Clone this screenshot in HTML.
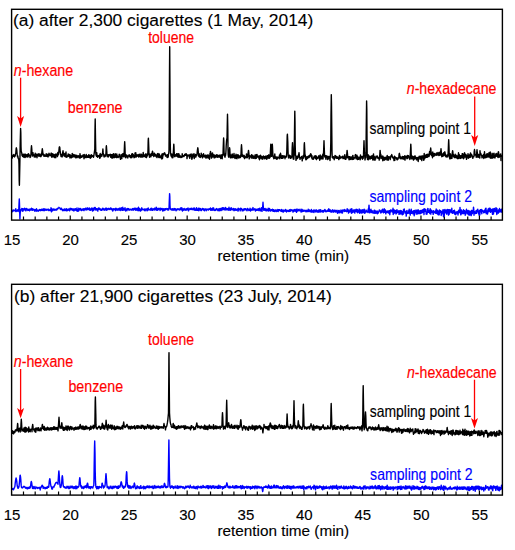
<!DOCTYPE html>
<html><head><meta charset="utf-8"><style>
html,body{margin:0;padding:0;background:#fff;width:515px;height:550px;overflow:hidden}
svg{display:block}
</style></head><body>
<svg width="515" height="550" viewBox="0 0 515 550">
<rect width="515" height="550" fill="#fff"/>
<g fill="none" stroke-linejoin="round">
<polyline points="12.0,157.9 12.2,158.1 12.5,156.4 12.8,155.4 13.0,155.0 13.2,156.4 13.5,155.1 13.8,154.6 14.0,156.5 14.2,156.4 14.5,156.9 14.8,155.2 15.0,156.2 15.2,155.9 15.5,154.0 15.8,153.4 16.0,150.6 16.2,148.3 16.4,147.8 16.8,150.1 17.0,152.9 17.2,155.0 17.5,156.8 17.8,155.8 18.0,156.9 18.2,158.4 18.6,159.2 18.8,158.9 19.0,164.0 19.2,180.5 19.4,185.3 19.8,166.1 20.0,155.1 20.2,143.9 20.6,128.5 20.8,132.3 21.0,146.5 21.2,151.2 21.5,152.1 21.8,153.2 22.0,155.4 22.2,155.0 22.5,156.3 22.8,156.5 23.0,155.6 23.2,154.1 23.5,157.1 23.8,155.4 24.0,156.8 24.2,154.3 24.5,155.4 24.8,157.4 25.0,157.6 25.2,154.3 25.5,154.3 25.8,155.8 26.0,156.7 26.2,156.0 26.5,156.2 26.8,154.6 27.0,156.5 27.2,157.1 27.5,155.3 27.8,154.1 28.0,154.9 28.2,156.7 28.5,153.7 28.8,155.6 29.0,154.5 29.2,155.6 29.5,155.4 29.8,155.7 30.0,157.5 30.2,156.2 30.5,157.2 30.8,155.3 31.0,153.5 31.2,149.1 31.5,145.8 31.8,149.1 32.0,153.8 32.2,154.0 32.5,156.1 32.8,154.9 33.0,152.6 33.2,155.3 33.5,154.4 33.8,154.9 34.0,155.3 34.2,157.0 34.5,155.6 34.8,155.5 35.0,156.0 35.2,153.3 35.5,157.0 35.8,154.2 36.0,156.0 36.2,154.1 36.5,154.3 36.8,155.0 37.0,157.7 37.2,156.2 37.5,154.7 37.8,155.0 38.0,154.0 38.2,155.3 38.5,154.7 38.8,156.2 39.0,153.7 39.2,154.9 39.5,154.3 39.8,154.5 40.0,156.2 40.2,155.4 40.5,156.0 40.8,156.7 41.0,156.6 41.2,153.6 41.5,155.5 41.8,152.7 42.0,151.0 42.3,148.8 42.5,149.9 42.8,152.6 43.0,154.7 43.2,155.1 43.5,155.2 43.8,154.3 44.0,156.4 44.2,156.2 44.5,154.9 44.8,155.5 45.0,155.9 45.2,156.3 45.5,155.6 45.8,155.9 46.0,154.8 46.2,153.8 46.5,154.5 46.8,156.3 47.0,156.2 47.2,155.2 47.5,154.3 47.8,155.4 48.0,157.0 48.2,156.6 48.5,154.2 48.8,155.0 49.0,153.3 49.2,153.7 49.5,155.2 49.8,155.0 50.0,155.9 50.2,155.8 50.5,154.9 50.8,154.9 51.0,153.4 51.2,153.1 51.5,154.7 51.8,157.2 52.0,155.2 52.2,153.7 52.5,155.4 52.8,156.8 53.0,153.9 53.2,156.1 53.5,154.4 53.8,156.7 54.0,156.1 54.2,155.5 54.5,157.6 54.8,154.7 55.0,154.4 55.2,157.4 55.5,154.2 55.8,157.8 56.0,155.2 56.2,154.0 56.5,155.2 56.8,155.4 57.0,155.5 57.2,155.0 57.5,156.5 57.8,152.5 58.0,154.5 58.2,154.4 58.5,154.7 58.8,151.9 59.0,149.7 59.2,147.6 59.5,146.8 59.8,147.6 60.0,149.7 60.2,152.0 60.5,153.4 60.8,155.0 61.0,156.5 61.2,156.4 61.5,155.0 61.8,156.7 62.0,154.2 62.2,156.9 62.5,154.0 62.8,151.9 63.0,150.8 63.2,152.0 63.5,155.0 63.8,154.9 64.0,155.0 64.2,156.1 64.5,154.4 64.8,153.4 65.0,156.5 65.2,155.0 65.5,156.8 65.8,154.3 66.0,152.0 66.2,155.8 66.5,155.7 66.8,157.4 67.0,156.1 67.2,155.9 67.5,156.2 67.8,155.1 68.0,155.6 68.2,153.9 68.5,156.2 68.8,154.6 69.0,155.0 69.2,156.4 69.5,156.7 69.8,154.4 70.0,158.0 70.2,154.9 70.5,156.6 70.8,156.8 71.0,155.9 71.2,155.8 71.5,157.8 71.8,156.7 72.0,156.2 72.2,153.5 72.5,154.8 72.8,157.1 73.0,155.9 73.2,154.5 73.5,154.9 73.8,155.3 74.0,156.5 74.2,156.2 74.5,156.9 74.8,154.8 75.0,156.9 75.2,155.1 75.5,155.4 75.8,157.8 76.0,155.9 76.2,155.6 76.5,155.5 76.8,155.3 77.0,157.7 77.2,157.4 77.5,156.7 77.8,156.0 78.0,157.1 78.2,155.7 78.5,156.4 78.8,156.3 79.0,156.0 79.2,157.8 79.5,158.0 79.8,157.4 80.0,153.6 80.2,158.1 80.5,156.7 80.8,155.4 81.0,155.9 81.2,157.3 81.5,157.3 81.8,156.9 82.0,156.1 82.2,156.0 82.5,156.9 82.8,155.8 83.0,154.9 83.2,155.2 83.5,155.8 83.8,156.4 84.0,158.7 84.2,154.4 84.5,156.6 84.8,155.9 85.0,156.4 85.2,157.6 85.5,157.5 85.8,155.8 86.0,155.4 86.2,154.4 86.5,156.0 86.8,157.5 87.0,155.7 87.2,156.9 87.5,156.9 87.8,156.6 88.0,157.4 88.2,156.0 88.5,155.1 88.8,154.7 89.0,157.2 89.2,155.7 89.5,155.8 89.8,157.1 90.0,155.2 90.2,158.3 90.5,157.0 90.8,155.5 91.0,155.4 91.2,157.5 91.5,154.8 91.8,155.4 92.0,156.2 92.2,156.4 92.5,156.2 92.8,156.6 93.0,155.7 93.2,156.0 93.5,157.4 93.8,156.2 94.0,154.5 94.2,153.3 94.5,151.3 94.8,149.0 95.0,129.3 95.2,119.0 95.5,138.3 95.8,153.0 96.0,155.1 96.2,155.4 96.5,156.4 96.8,152.7 97.0,156.5 97.2,155.1 97.5,157.2 97.8,156.9 98.0,156.9 98.2,155.6 98.5,156.6 98.8,155.6 99.0,156.3 99.2,155.9 99.5,155.0 99.8,158.4 100.0,156.9 100.2,153.5 100.5,157.1 100.8,154.3 101.0,155.7 101.2,155.3 101.5,155.4 101.8,156.3 102.0,155.6 102.2,154.1 102.5,153.6 102.8,150.0 102.9,149.0 103.2,152.9 103.5,154.2 103.8,155.5 104.0,156.8 104.2,154.9 104.5,155.1 104.8,156.7 105.0,156.0 105.2,156.3 105.5,155.2 105.8,154.6 106.0,152.5 106.2,147.2 106.4,145.8 106.8,151.5 107.0,155.5 107.2,156.5 107.5,156.6 107.8,154.9 108.0,154.7 108.2,157.0 108.5,156.0 108.8,156.1 109.0,154.6 109.2,155.7 109.5,155.2 109.8,155.0 110.0,155.2 110.2,154.2 110.5,156.1 110.8,157.4 111.0,155.2 111.2,156.1 111.5,154.7 111.8,156.8 112.0,158.2 112.2,154.5 112.5,155.7 112.8,157.7 113.0,156.4 113.2,156.1 113.5,153.6 113.8,155.8 114.0,157.1 114.2,157.7 114.5,156.8 114.8,155.3 115.0,155.2 115.2,153.8 115.5,154.7 115.8,157.3 116.0,155.9 116.2,154.4 116.5,157.6 116.8,154.0 117.0,157.5 117.2,155.6 117.5,156.4 117.8,156.8 118.0,156.3 118.2,157.5 118.5,156.0 118.8,155.6 119.0,155.2 119.2,154.3 119.5,155.2 119.8,157.2 120.0,157.0 120.2,157.7 120.5,159.3 120.8,156.9 121.0,156.6 121.2,154.4 121.5,155.7 121.8,158.6 122.0,156.6 122.2,155.8 122.5,156.4 122.8,153.7 123.0,155.0 123.2,154.4 123.5,153.4 123.8,156.9 124.0,156.4 124.2,152.3 124.5,145.1 124.7,141.8 125.0,148.2 125.2,154.4 125.5,157.5 125.8,157.8 126.0,156.6 126.2,155.8 126.5,155.0 126.8,155.3 127.0,156.7 127.2,156.7 127.5,156.0 127.8,158.0 128.0,156.8 128.2,156.0 128.5,155.8 128.8,156.1 129.0,154.9 129.2,154.8 129.5,156.4 129.8,155.3 130.0,155.7 130.2,157.5 130.5,155.8 130.8,157.6 131.0,156.0 131.2,157.8 131.5,156.6 131.8,153.9 132.0,157.5 132.2,155.8 132.5,153.7 132.8,156.1 133.0,156.2 133.2,154.5 133.5,155.3 133.8,156.7 134.0,157.7 134.2,157.4 134.5,157.5 134.8,157.3 135.0,153.0 135.2,155.1 135.5,156.2 135.8,152.8 136.0,156.9 136.2,157.1 136.5,155.1 136.8,155.5 137.0,154.9 137.2,156.0 137.5,156.0 137.8,156.0 138.0,154.8 138.2,156.5 138.5,155.6 138.8,157.1 139.0,156.4 139.2,154.2 139.5,154.3 139.8,156.1 140.0,155.4 140.2,156.6 140.5,157.0 140.8,156.0 141.0,154.0 141.2,154.6 141.5,156.7 141.8,154.7 142.0,157.3 142.2,155.9 142.5,156.6 142.8,154.9 143.0,155.9 143.2,152.5 143.5,155.8 143.8,156.7 144.0,154.9 144.2,155.0 144.5,155.9 144.8,156.1 145.0,155.0 145.2,156.8 145.5,154.0 145.8,157.3 146.0,154.3 146.2,155.0 146.5,157.6 146.8,154.8 147.0,154.0 147.2,156.1 147.5,154.8 147.8,154.1 148.0,149.8 148.2,140.6 148.4,138.1 148.8,148.0 149.0,155.2 149.2,155.1 149.5,157.2 149.8,154.3 150.0,156.6 150.2,154.5 150.5,155.5 150.8,156.8 151.0,155.4 151.2,153.7 151.5,155.3 151.8,155.5 152.0,154.8 152.2,152.4 152.5,151.2 152.8,152.4 153.0,153.5 153.2,155.5 153.5,155.0 153.8,156.5 154.0,155.9 154.2,155.8 154.5,153.1 154.8,155.9 155.0,155.6 155.2,154.9 155.5,155.4 155.8,154.5 156.0,156.2 156.2,156.8 156.5,156.7 156.8,155.4 157.0,157.6 157.2,155.9 157.5,153.7 157.7,153.8 158.0,153.5 158.2,155.3 158.5,156.7 158.8,157.5 159.0,155.5 159.2,153.9 159.5,155.8 159.8,157.6 160.0,156.2 160.2,157.5 160.5,157.0 160.8,157.9 161.0,156.7 161.2,155.2 161.5,156.5 161.8,159.0 162.0,155.4 162.2,153.8 162.5,158.5 162.8,156.4 163.0,155.1 163.2,154.9 163.5,153.8 163.8,154.7 164.0,153.6 164.2,153.0 164.5,152.8 164.8,153.0 165.0,153.9 165.2,154.2 165.5,156.1 165.8,154.6 166.0,155.1 166.2,155.3 166.5,155.3 166.8,155.9 167.0,157.2 167.2,157.4 167.5,154.7 167.8,157.4 168.0,155.9 168.2,156.9 168.5,154.3 168.8,152.8 169.0,150.6 169.2,127.4 169.5,72.2 169.7,46.8 170.0,95.8 170.2,141.2 170.5,153.4 170.8,154.2 171.0,155.9 171.2,156.3 171.5,155.4 171.8,153.9 172.0,157.6 172.2,155.6 172.5,154.8 172.8,157.9 173.0,157.1 173.2,155.0 173.5,149.4 173.8,144.1 174.0,146.9 174.2,152.9 174.5,155.9 174.8,156.7 175.0,156.6 175.2,154.8 175.5,155.3 175.8,155.6 176.0,155.8 176.2,155.0 176.5,153.8 176.8,154.5 177.0,156.4 177.2,156.0 177.5,156.7 177.8,153.7 178.0,155.5 178.2,157.1 178.5,153.7 178.8,154.7 179.0,154.0 179.2,157.4 179.5,156.0 179.8,155.3 180.0,156.2 180.2,155.9 180.5,157.1 180.8,157.4 181.0,157.1 181.2,156.4 181.5,156.9 181.8,157.0 182.0,157.4 182.2,153.8 182.5,156.4 182.8,156.1 183.0,156.2 183.2,155.7 183.5,155.9 183.8,156.6 184.0,156.2 184.2,156.2 184.5,154.7 184.8,154.5 185.0,155.1 185.2,153.9 185.5,155.4 185.8,155.0 186.0,153.9 186.2,153.7 186.5,155.4 186.8,155.3 187.0,158.6 187.2,157.0 187.5,155.1 187.8,155.4 188.0,154.8 188.2,155.1 188.5,155.6 188.8,155.9 189.0,155.3 189.2,157.0 189.5,156.8 189.8,158.3 190.0,154.4 190.2,156.8 190.5,155.6 190.8,154.1 191.0,155.6 191.2,154.0 191.5,156.0 191.8,159.3 192.0,157.6 192.2,158.2 192.5,157.4 192.8,154.2 193.0,156.5 193.2,156.2 193.5,156.5 193.8,154.8 194.0,153.6 194.2,158.5 194.5,157.4 194.8,156.4 195.0,155.4 195.2,156.2 195.5,154.5 195.8,157.1 196.0,156.2 196.2,155.8 196.5,155.4 196.8,155.5 197.0,154.5 197.2,152.2 197.5,149.5 197.8,147.8 198.0,148.6 198.2,151.1 198.5,154.0 198.8,156.3 199.0,156.6 199.2,153.8 199.5,155.6 199.8,157.2 200.0,156.0 200.2,157.5 200.5,155.5 200.8,157.0 201.0,156.6 201.2,153.1 201.5,155.5 201.8,155.7 202.0,155.3 202.2,155.0 202.5,157.9 202.8,155.9 203.0,157.0 203.2,154.5 203.5,153.6 203.8,155.5 204.0,156.6 204.2,155.2 204.5,156.7 204.8,157.0 205.0,155.5 205.2,156.0 205.5,155.2 205.8,157.4 206.0,158.2 206.2,156.7 206.5,155.5 206.8,155.3 207.0,155.8 207.2,157.2 207.5,155.2 207.8,157.9 208.0,154.7 208.2,156.1 208.5,157.7 208.8,158.3 209.0,155.7 209.2,157.1 209.5,159.2 209.8,157.4 210.0,153.4 210.2,153.0 210.5,151.4 210.8,153.0 211.0,156.0 211.2,153.7 211.5,158.1 211.8,155.2 212.0,157.2 212.2,157.3 212.5,152.9 212.8,154.5 213.0,156.6 213.2,154.4 213.5,156.2 213.8,155.1 214.0,157.8 214.2,155.6 214.5,155.1 214.8,157.0 215.0,157.7 215.2,156.1 215.5,156.6 215.8,156.9 216.0,155.7 216.2,154.9 216.5,156.9 216.8,155.9 217.0,154.6 217.2,157.3 217.5,156.8 217.8,156.5 218.0,155.4 218.2,156.0 218.5,157.0 218.8,156.9 219.0,155.3 219.2,155.2 219.5,156.7 219.8,156.5 220.0,157.3 220.2,155.0 220.5,157.4 220.8,158.5 221.0,157.5 221.2,156.5 221.5,157.4 221.8,154.8 222.0,155.8 222.2,158.8 222.5,154.4 222.8,154.9 223.0,155.1 223.2,148.2 223.6,137.9 223.8,140.5 224.0,150.0 224.2,154.8 224.5,156.0 224.8,154.2 225.0,157.2 225.2,156.1 225.5,155.7 225.8,153.7 226.0,150.3 226.2,145.7 226.5,141.2 226.8,138.8 227.0,139.9 227.2,128.5 227.5,114.2 227.8,128.5 228.0,148.4 228.2,154.7 228.5,156.7 228.8,157.3 229.0,155.6 229.2,152.6 229.6,147.8 229.8,149.0 230.0,153.5 230.2,154.9 230.5,157.9 230.8,156.2 231.0,155.2 231.2,155.9 231.5,155.1 231.8,156.3 232.0,157.8 232.2,153.9 232.5,155.1 232.8,157.5 233.0,156.2 233.2,157.5 233.5,155.0 233.8,156.5 234.0,153.5 234.2,155.6 234.5,157.5 234.8,158.0 235.0,158.5 235.2,156.5 235.5,155.5 235.8,156.1 236.0,154.3 236.2,158.2 236.5,158.0 236.8,155.5 237.0,158.8 237.2,155.0 237.5,157.3 237.8,155.7 238.0,154.6 238.2,157.1 238.5,155.3 238.8,158.1 239.0,155.6 239.2,156.8 239.5,156.1 239.8,156.8 240.0,155.9 240.2,157.6 240.5,157.4 240.8,156.5 241.0,154.4 241.2,148.8 241.5,144.8 241.8,148.8 242.0,154.6 242.2,156.4 242.5,154.8 242.8,156.5 243.0,156.3 243.2,155.5 243.5,157.0 243.8,155.4 244.0,156.4 244.2,155.4 244.5,158.6 244.8,156.4 245.0,157.3 245.2,157.1 245.5,157.6 245.8,156.6 246.0,157.7 246.2,156.9 246.5,153.9 246.8,157.2 247.0,155.2 247.2,157.9 247.5,157.0 247.8,156.2 248.0,153.8 248.2,152.6 248.5,150.4 248.8,152.6 249.0,154.6 249.2,158.9 249.5,157.4 249.8,156.7 250.0,155.7 250.2,156.4 250.5,156.6 250.8,156.3 251.0,156.8 251.2,157.8 251.5,154.8 251.8,157.1 252.0,158.2 252.2,155.2 252.5,156.6 252.8,156.4 253.0,155.5 253.2,158.0 253.5,156.5 253.8,158.3 254.0,157.4 254.2,156.6 254.5,157.3 254.8,156.5 255.0,155.0 255.2,158.6 255.5,157.4 255.8,158.3 256.0,154.8 256.2,158.2 256.5,157.9 256.8,156.9 257.0,154.4 257.2,157.1 257.5,156.2 257.8,156.7 258.0,157.0 258.2,155.9 258.5,156.8 258.8,157.0 259.0,158.7 259.2,156.9 259.5,159.8 259.8,155.6 260.0,156.8 260.2,158.5 260.5,155.1 260.8,157.7 261.0,157.5 261.2,156.3 261.5,156.7 261.8,158.9 262.0,156.5 262.2,157.4 262.5,157.9 262.8,159.2 263.0,158.1 263.2,157.3 263.5,156.0 263.8,156.8 264.0,157.8 264.2,158.0 264.5,156.7 264.8,158.9 265.0,157.0 265.2,157.9 265.5,156.2 265.8,158.1 266.0,156.2 266.2,158.5 266.5,158.1 266.8,159.3 267.0,156.6 267.2,155.7 267.5,158.1 267.8,157.5 268.0,156.5 268.2,155.5 268.5,158.1 268.8,154.8 269.0,156.6 269.2,158.4 269.5,156.8 269.8,157.7 270.0,157.5 270.2,155.7 270.5,149.9 270.8,144.1 271.0,147.1 271.2,153.7 271.5,156.4 271.8,155.1 272.0,150.0 272.3,144.1 272.5,147.1 272.8,153.7 273.0,156.8 273.2,157.1 273.5,156.6 273.8,158.7 274.0,157.9 274.2,157.6 274.5,155.7 274.8,154.0 275.0,156.3 275.2,158.6 275.5,156.9 275.8,157.2 276.0,156.9 276.2,157.8 276.5,157.2 276.8,159.3 277.0,157.1 277.2,156.9 277.5,158.9 277.8,158.1 278.0,158.1 278.2,157.9 278.5,157.2 278.8,157.6 279.0,157.9 279.2,157.4 279.5,155.0 279.8,158.7 280.0,156.1 280.2,154.6 280.5,153.3 280.8,154.5 281.0,155.7 281.2,157.1 281.5,158.3 281.8,156.9 282.0,157.8 282.2,155.7 282.5,158.2 282.8,155.9 283.0,158.1 283.2,156.4 283.5,156.6 283.8,155.8 284.0,155.8 284.2,157.0 284.5,156.1 284.8,157.0 285.0,158.7 285.2,156.3 285.5,156.9 285.8,157.2 286.0,156.6 286.2,157.0 286.5,156.0 286.8,151.7 287.0,143.8 287.2,135.8 287.4,134.1 287.8,142.0 288.0,150.4 288.2,155.4 288.5,157.8 288.8,158.0 289.0,156.5 289.2,156.1 289.5,155.2 289.8,156.7 290.0,157.1 290.2,155.6 290.5,158.4 290.8,157.6 291.0,157.1 291.2,156.8 291.5,157.9 291.8,156.7 292.0,154.6 292.2,147.7 292.5,142.8 292.8,147.7 293.0,154.5 293.2,159.0 293.5,158.6 293.8,159.3 294.0,156.0 294.2,151.2 294.5,131.9 294.8,111.1 295.0,121.9 295.2,145.3 295.5,155.8 295.8,155.8 296.0,160.4 296.2,157.6 296.5,159.0 296.8,156.6 297.0,156.3 297.2,158.5 297.5,158.5 297.8,156.6 298.0,157.8 298.2,155.8 298.5,154.9 298.8,154.3 299.0,152.6 299.2,154.3 299.5,157.4 299.8,157.8 300.0,159.3 300.2,157.9 300.5,157.9 300.8,157.5 301.0,158.0 301.2,157.9 301.5,156.4 301.8,157.4 302.0,157.1 302.2,160.9 302.5,159.0 302.8,156.6 303.0,158.2 303.2,155.4 303.5,157.5 303.8,158.1 304.0,152.4 304.2,144.7 304.4,142.7 304.8,150.9 305.0,156.4 305.2,154.9 305.5,156.5 305.8,159.8 306.0,156.5 306.2,158.9 306.5,159.6 306.8,157.5 307.0,158.7 307.2,157.9 307.5,156.8 307.8,158.2 308.0,158.0 308.2,156.3 308.5,157.0 308.8,155.9 309.0,157.1 309.2,157.4 309.5,156.1 309.8,155.1 310.0,156.2 310.2,155.0 310.5,154.0 310.7,153.8 311.0,154.3 311.2,154.5 311.5,157.7 311.8,157.2 312.0,155.7 312.2,158.9 312.5,158.4 312.8,159.2 313.0,158.4 313.2,158.2 313.5,159.2 313.8,157.2 314.0,157.8 314.2,156.2 314.5,156.2 314.8,157.8 315.0,157.8 315.2,155.6 315.5,158.0 315.8,158.7 316.0,156.0 316.2,157.1 316.5,159.6 316.8,156.5 317.0,158.2 317.2,158.5 317.5,157.7 317.8,157.7 318.0,158.2 318.2,157.9 318.5,157.7 318.8,155.8 319.0,157.8 319.2,156.6 319.5,159.3 319.8,160.2 320.0,158.9 320.2,155.0 320.5,158.7 320.8,157.7 321.0,156.2 321.2,156.1 321.5,158.8 321.8,156.8 322.0,157.4 322.2,157.6 322.5,158.7 322.8,154.3 323.0,159.0 323.2,156.3 323.5,154.3 323.8,146.4 324.0,140.7 324.2,146.4 324.5,154.3 324.8,157.0 325.0,156.3 325.2,156.8 325.5,155.6 325.8,158.5 326.0,159.3 326.2,156.8 326.5,157.0 326.8,155.8 327.0,156.7 327.2,156.3 327.5,157.6 327.8,159.6 328.0,158.8 328.2,158.7 328.5,156.4 328.8,158.5 329.0,156.7 329.2,156.5 329.5,158.4 329.8,157.4 330.0,160.5 330.2,157.3 330.5,154.2 330.8,141.9 331.0,115.9 331.3,94.6 331.5,105.2 331.8,132.7 332.0,150.9 332.2,157.5 332.5,156.2 332.8,158.0 333.0,156.9 333.2,157.9 333.5,156.6 333.8,158.3 334.0,158.2 334.2,159.7 334.5,157.1 334.8,158.1 335.0,155.5 335.2,156.6 335.5,157.9 335.8,155.9 336.0,157.4 336.2,156.5 336.5,158.1 336.8,158.3 337.0,157.0 337.2,158.3 337.5,156.9 337.8,157.7 338.0,158.2 338.2,158.2 338.5,158.3 338.8,159.6 339.0,156.8 339.2,157.4 339.5,155.4 339.8,158.6 340.0,156.2 340.2,156.9 340.5,157.0 340.8,158.1 341.0,157.2 341.2,157.2 341.5,157.7 341.8,157.2 342.0,157.5 342.2,156.4 342.5,156.9 342.8,156.1 343.0,158.6 343.2,158.6 343.5,158.4 343.8,158.0 344.0,156.9 344.2,158.2 344.5,155.7 344.8,154.6 345.0,156.2 345.2,159.4 345.5,157.9 345.8,159.4 346.0,156.7 346.2,158.4 346.5,157.2 346.8,153.5 347.1,150.4 347.2,151.1 347.5,154.1 347.8,157.9 348.0,156.1 348.2,156.7 348.5,157.6 348.8,156.7 349.0,159.7 349.2,158.4 349.5,156.7 349.8,159.6 350.0,159.2 350.2,157.1 350.5,159.4 350.8,159.0 351.0,157.0 351.2,156.9 351.5,158.0 351.8,159.0 352.0,159.5 352.2,159.4 352.5,157.0 352.8,155.5 353.0,155.6 353.2,159.4 353.5,158.9 353.8,159.0 354.0,157.6 354.2,157.7 354.5,158.1 354.8,157.9 355.0,156.7 355.2,155.1 355.5,154.6 355.8,155.4 356.0,156.5 356.2,158.9 356.5,156.3 356.8,155.2 357.0,155.2 357.2,157.6 357.5,159.6 357.8,157.2 358.0,156.8 358.2,158.0 358.5,159.4 358.8,158.9 359.0,158.6 359.2,158.7 359.5,157.3 359.8,157.7 360.0,158.1 360.2,159.8 360.5,155.0 360.8,157.0 361.0,158.0 361.2,157.3 361.5,157.5 361.8,157.3 362.0,156.5 362.2,158.2 362.5,159.2 362.8,157.2 363.0,158.1 363.2,158.3 363.5,154.4 363.8,146.4 364.0,140.7 364.2,146.4 364.5,154.4 364.8,157.0 365.0,160.0 365.2,158.6 365.5,155.4 365.8,157.6 366.0,152.4 366.2,132.4 366.6,101.0 366.8,108.8 367.0,138.0 367.2,154.2 367.5,159.4 367.8,157.5 368.0,154.6 368.2,159.9 368.5,158.3 368.8,155.4 369.0,156.9 369.2,156.7 369.5,158.8 369.8,156.9 370.0,159.0 370.2,157.0 370.5,158.8 370.8,156.9 371.0,156.2 371.2,158.4 371.5,157.4 371.8,158.3 372.0,155.7 372.2,156.4 372.5,157.2 372.8,160.0 373.0,158.1 373.2,155.7 373.5,153.9 373.8,159.9 374.0,158.1 374.2,156.2 374.5,158.9 374.8,158.7 375.0,160.2 375.2,157.9 375.5,157.1 375.8,158.7 376.0,156.1 376.2,157.1 376.5,156.5 376.8,157.0 377.0,156.1 377.2,156.0 377.5,156.4 377.8,158.2 378.0,157.7 378.2,157.6 378.5,158.3 378.8,158.6 379.0,158.3 379.2,160.1 379.5,157.3 379.8,154.5 380.1,150.4 380.2,151.4 380.5,155.4 380.8,154.2 381.0,158.6 381.2,156.4 381.5,158.1 381.8,157.8 382.0,156.2 382.2,156.1 382.5,157.4 382.8,160.8 383.0,156.2 383.2,157.2 383.5,157.4 383.8,157.4 384.0,159.1 384.2,160.2 384.5,157.7 384.8,158.2 385.0,157.3 385.2,159.6 385.5,157.7 385.8,158.5 386.0,157.5 386.2,159.1 386.5,157.7 386.8,156.7 387.0,160.0 387.2,155.4 387.5,157.9 387.8,157.3 388.0,156.7 388.2,160.2 388.5,158.1 388.8,157.3 389.0,156.7 389.2,158.1 389.5,157.7 389.8,157.5 390.0,157.0 390.2,159.6 390.5,157.9 390.8,157.2 391.0,155.8 391.2,155.5 391.5,155.0 391.7,154.6 392.0,155.4 392.2,156.2 392.5,157.5 392.8,158.0 393.0,157.2 393.2,157.4 393.5,157.7 393.8,158.6 394.0,160.6 394.2,158.8 394.5,156.2 394.8,160.4 395.0,157.6 395.2,156.9 395.5,157.9 395.8,157.7 396.0,158.1 396.2,157.7 396.5,157.8 396.8,159.3 397.0,159.8 397.2,157.9 397.5,159.7 397.8,158.9 398.0,159.2 398.2,158.1 398.5,157.9 398.8,157.9 399.0,155.3 399.2,153.7 399.4,153.3 399.8,155.4 400.0,157.1 400.2,158.3 400.5,157.4 400.8,156.9 401.0,159.0 401.2,157.3 401.5,157.5 401.8,157.9 402.0,158.4 402.2,157.9 402.5,156.5 402.8,156.5 403.0,159.1 403.2,157.4 403.5,157.5 403.8,156.7 404.0,159.0 404.2,158.4 404.5,157.1 404.8,155.7 405.0,160.1 405.2,157.1 405.5,156.4 405.8,157.2 406.0,156.4 406.2,157.8 406.5,157.1 406.8,156.3 407.0,158.7 407.2,156.7 407.5,155.5 407.8,158.3 408.0,157.1 408.2,156.4 408.5,155.7 408.8,156.9 409.0,157.1 409.2,157.2 409.5,157.2 409.8,159.5 410.0,159.0 410.2,156.1 410.5,150.3 410.8,144.1 411.0,147.3 411.2,154.3 411.5,158.8 411.8,156.9 412.0,156.9 412.2,156.9 412.5,156.1 412.8,158.6 413.0,156.4 413.2,159.7 413.5,160.1 413.8,158.0 414.0,157.8 414.2,156.7 414.5,159.1 414.8,158.0 415.0,155.8 415.2,156.6 415.5,158.5 415.8,157.2 416.0,158.5 416.2,158.2 416.5,159.9 416.8,157.7 417.0,159.4 417.2,159.4 417.5,159.7 417.8,157.4 418.0,158.3 418.2,161.5 418.5,157.6 418.8,157.0 419.0,158.1 419.2,156.2 419.5,156.7 419.8,157.3 420.0,157.5 420.2,159.3 420.5,156.2 420.8,157.4 421.0,158.0 421.2,157.1 421.5,158.5 421.8,160.6 422.0,155.7 422.2,155.9 422.5,156.3 422.8,156.2 423.0,156.1 423.2,157.5 423.5,159.3 423.8,160.3 424.0,156.5 424.2,153.5 424.5,158.8 424.8,156.4 425.0,155.7 425.2,157.8 425.5,155.9 425.8,155.7 426.0,154.6 426.2,157.3 426.5,157.1 426.8,154.4 427.0,154.8 427.2,157.4 427.5,154.4 427.8,154.7 428.0,154.1 428.2,154.9 428.5,156.5 428.8,155.2 429.0,156.5 429.2,155.8 429.5,151.7 429.8,154.7 430.0,154.4 430.2,151.7 430.5,149.5 430.7,148.0 431.0,150.8 431.2,154.0 431.5,155.5 431.8,155.2 432.0,153.2 432.2,153.9 432.5,157.8 432.8,152.0 433.0,154.1 433.2,154.1 433.5,156.3 433.8,155.0 434.0,154.3 434.2,153.5 434.5,155.9 434.8,154.1 435.0,153.8 435.2,154.3 435.5,155.1 435.8,154.1 436.0,154.4 436.2,155.2 436.5,152.9 436.8,153.6 437.0,154.1 437.2,155.1 437.5,154.9 437.8,153.2 438.0,152.4 438.2,153.5 438.5,153.3 438.8,155.5 439.0,155.2 439.2,154.3 439.5,152.6 439.8,152.3 440.0,154.5 440.2,155.2 440.5,153.7 440.8,150.7 441.0,148.8 441.2,150.7 441.5,154.6 441.8,156.7 442.0,154.9 442.2,155.1 442.5,154.4 442.8,156.2 443.0,153.4 443.2,154.0 443.5,155.5 443.8,152.7 444.0,155.7 444.2,155.2 444.5,153.3 444.8,151.8 445.0,153.0 445.2,153.7 445.5,155.3 445.8,156.5 446.0,155.3 446.2,157.0 446.5,155.4 446.8,155.9 447.0,155.5 447.2,156.6 447.5,154.6 447.8,157.0 448.0,156.3 448.2,151.5 448.5,143.5 448.7,139.8 449.0,147.0 449.2,154.0 449.5,155.8 449.8,158.9 450.0,158.5 450.2,153.6 450.5,155.4 450.8,155.5 451.0,158.5 451.2,157.2 451.5,157.4 451.8,154.7 452.0,158.2 452.2,153.3 452.6,150.8 452.8,151.5 453.0,153.6 453.2,156.0 453.5,154.5 453.8,157.0 454.0,156.8 454.2,156.0 454.5,157.0 454.8,157.7 455.0,157.7 455.2,154.2 455.5,157.0 455.8,157.3 456.0,155.4 456.2,155.3 456.5,157.8 456.8,157.0 457.0,156.1 457.2,158.2 457.5,157.4 457.8,158.7 458.0,155.3 458.2,157.5 458.5,152.8 458.8,154.9 459.0,158.5 459.2,154.4 459.5,155.7 459.8,155.4 460.0,156.7 460.2,157.7 460.5,158.4 460.8,155.7 461.0,156.4 461.2,157.3 461.5,157.7 461.8,155.4 462.0,158.0 462.2,153.6 462.5,156.3 462.8,153.7 463.0,155.1 463.2,154.6 463.5,158.7 463.8,158.5 464.0,157.1 464.2,156.1 464.5,152.8 464.8,153.2 465.0,156.2 465.2,157.0 465.5,156.7 465.8,154.7 466.0,154.6 466.2,156.7 466.5,159.4 466.8,157.0 467.0,155.8 467.2,155.7 467.5,156.5 467.8,156.3 468.0,153.6 468.2,158.3 468.5,156.5 468.8,156.7 469.0,155.1 469.2,157.6 469.5,157.4 469.8,154.7 470.0,157.4 470.2,154.7 470.5,152.9 470.8,157.1 471.0,154.2 471.2,154.9 471.5,154.3 471.8,155.7 472.0,155.2 472.2,156.0 472.5,156.5 472.8,158.4 473.0,156.5 473.2,156.6 473.5,156.5 473.8,156.8 474.0,155.4 474.2,151.6 474.5,149.5 474.8,151.6 475.0,154.8 475.2,155.1 475.5,155.1 475.8,154.9 476.0,154.6 476.2,157.3 476.5,155.4 476.8,151.8 477.0,149.8 477.2,151.8 477.5,154.1 477.8,157.2 478.0,156.2 478.2,155.8 478.5,154.4 478.8,157.2 479.0,156.1 479.2,156.2 479.5,154.6 479.8,158.1 480.0,150.8 480.2,153.5 480.5,153.1 480.8,153.6 481.0,154.1 481.2,154.9 481.5,155.2 481.8,156.0 482.0,157.8 482.2,156.6 482.5,155.9 482.8,155.4 483.0,156.3 483.2,157.0 483.5,154.5 483.8,158.5 484.0,155.7 484.2,157.0 484.5,151.8 484.8,156.0 485.0,155.0 485.2,157.8 485.5,157.3 485.8,156.2 486.0,156.7 486.2,155.2 486.5,154.2 486.8,157.5 487.0,153.7 487.2,154.8 487.5,153.8 487.8,154.1 488.0,155.0 488.2,157.0 488.5,154.1 488.8,156.8 489.0,152.7 489.2,154.3 489.5,154.2 489.8,156.7 490.0,157.7 490.2,151.9 490.5,155.7 490.8,158.2 491.0,155.6 491.2,158.2 491.5,157.5 491.8,156.1 492.0,153.3 492.2,154.5 492.5,158.1 492.8,154.2 493.0,153.9 493.2,154.9 493.5,157.6 493.8,155.7 494.0,153.1 494.2,154.6 494.5,156.7 494.8,157.4 495.0,158.0 495.2,156.4 495.5,156.3 495.8,154.0 496.0,154.7 496.2,153.4 496.5,155.3 496.8,156.2 497.0,155.6 497.2,154.0 497.5,156.5 497.8,157.0 498.0,157.5 498.2,152.1 498.5,151.7 498.8,153.8 499.0,156.4 499.2,157.2 499.5,156.7 499.8,155.6 500.0,155.9 500.2,155.1 500.5,154.4 500.8,153.9 501.0,160.6 501.2,155.1 501.5,156.4 501.8,156.4 502.0,156.9" stroke="#000" stroke-width="1.4"/>
<polyline points="12.0,212.4 12.2,210.4 12.5,211.1 12.8,210.9 13.0,211.4 13.2,209.9 13.5,210.5 13.8,210.3 14.0,210.1 14.2,210.2 14.5,210.5 14.8,210.6 15.0,210.2 15.2,211.1 15.5,210.4 15.8,208.7 16.0,211.6 16.2,210.5 16.5,210.3 16.8,211.0 17.0,211.0 17.2,210.8 17.5,210.1 17.8,210.8 18.0,209.6 18.2,211.5 18.5,209.6 18.8,209.4 19.0,204.8 19.3,198.9 19.5,203.7 19.8,215.4 19.9,219.0 20.2,212.8 20.5,210.2 20.8,209.7 21.0,210.9 21.2,209.2 21.5,209.8 21.8,208.4 22.0,209.9 22.2,208.6 22.5,208.7 22.8,211.3 23.0,210.2 23.2,209.7 23.5,209.8 23.8,208.7 24.0,209.0 24.2,210.0 24.5,208.3 24.8,209.9 25.0,208.5 25.2,209.8 25.5,209.0 25.8,210.9 26.0,210.4 26.2,209.4 26.5,208.4 26.8,209.2 27.0,209.7 27.2,209.0 27.5,209.9 27.8,210.4 28.0,209.7 28.2,209.4 28.5,210.2 28.8,209.5 29.0,210.3 29.2,209.5 29.5,210.8 29.8,209.5 30.0,209.0 30.2,209.8 30.5,209.3 30.8,209.1 31.0,209.6 31.2,210.2 31.5,208.2 31.8,209.7 32.0,209.6 32.2,209.6 32.5,210.3 32.8,208.8 33.0,210.2 33.2,209.6 33.5,209.8 33.8,209.6 34.0,209.5 34.2,209.4 34.5,210.0 34.8,211.2 35.0,210.4 35.2,210.3 35.5,210.1 35.8,209.4 36.0,210.1 36.2,211.2 36.5,208.8 36.8,210.3 37.0,210.4 37.2,209.9 37.5,210.3 37.8,210.7 38.0,211.3 38.2,210.6 38.5,210.9 38.8,210.0 39.0,210.3 39.2,209.9 39.5,210.0 39.8,209.4 40.0,210.2 40.2,210.8 40.5,209.6 40.8,209.9 41.0,210.2 41.2,209.8 41.5,210.4 41.8,209.9 42.0,209.0 42.2,209.1 42.5,210.3 42.8,210.2 43.0,210.5 43.2,209.9 43.5,209.9 43.8,208.7 44.0,210.7 44.2,209.1 44.5,210.5 44.8,209.0 45.0,209.3 45.2,209.9 45.5,209.5 45.8,209.3 46.0,210.4 46.2,210.2 46.5,210.1 46.8,209.5 47.0,209.2 47.2,209.5 47.5,209.4 47.8,209.8 48.0,210.3 48.2,209.7 48.5,209.2 48.8,209.4 49.0,210.7 49.2,209.9 49.5,209.9 49.8,210.0 50.0,210.2 50.2,209.9 50.5,210.6 50.8,210.4 51.0,207.8 51.2,209.7 51.5,211.8 51.8,208.9 52.0,209.9 52.2,210.5 52.5,209.8 52.8,210.7 53.0,208.9 53.2,208.9 53.5,209.7 53.8,209.3 54.0,209.1 54.2,210.2 54.5,210.0 54.8,209.8 55.0,209.5 55.2,210.0 55.5,209.7 55.8,209.3 56.0,210.1 56.2,209.9 56.5,209.6 56.8,209.9 57.0,208.7 57.2,209.0 57.5,208.5 57.8,209.0 58.0,208.3 58.2,208.4 58.5,208.0 58.8,207.5 58.9,207.3 59.2,207.7 59.5,207.8 59.8,208.0 60.0,208.0 60.2,209.0 60.5,209.1 60.8,209.5 61.0,209.6 61.2,209.0 61.5,208.2 61.8,209.5 62.0,209.3 62.2,209.4 62.5,210.4 62.8,209.7 63.0,210.8 63.2,209.9 63.5,210.2 63.8,210.1 64.0,210.3 64.2,208.9 64.5,210.5 64.8,209.8 65.0,209.0 65.2,210.1 65.5,209.9 65.8,210.6 66.0,210.2 66.2,209.9 66.5,208.6 66.8,210.8 67.0,210.7 67.2,210.2 67.5,210.0 67.8,210.5 68.0,209.1 68.2,210.1 68.5,209.7 68.8,209.0 69.0,209.9 69.2,209.9 69.5,210.8 69.8,210.3 70.0,208.5 70.2,208.3 70.5,209.6 70.8,209.5 71.0,209.0 71.2,208.6 71.5,209.5 71.8,208.8 72.0,209.1 72.2,210.2 72.5,209.8 72.8,209.1 73.0,208.8 73.2,209.4 73.5,210.8 73.8,209.2 74.0,210.8 74.2,209.0 74.5,209.4 74.8,210.0 75.0,209.0 75.2,209.6 75.5,208.6 75.8,210.0 76.0,210.3 76.2,209.1 76.5,209.7 76.8,209.2 77.0,208.0 77.2,211.4 77.5,209.9 77.8,210.1 78.0,209.8 78.2,209.6 78.5,211.1 78.8,208.2 79.0,209.3 79.2,209.2 79.5,209.3 79.8,210.0 80.0,209.0 80.2,208.5 80.5,208.7 80.8,209.8 81.0,210.1 81.2,210.0 81.5,210.6 81.8,209.1 82.0,210.1 82.2,209.9 82.5,209.3 82.8,208.9 83.0,210.0 83.2,208.9 83.5,209.2 83.8,208.7 84.0,210.6 84.2,209.4 84.5,209.0 84.8,209.2 85.0,209.2 85.2,209.4 85.5,208.2 85.8,208.6 86.0,209.7 86.2,210.1 86.5,208.6 86.8,209.4 87.0,208.9 87.2,207.8 87.5,209.1 87.8,208.6 88.0,209.9 88.2,209.2 88.5,209.3 88.8,208.3 89.0,209.4 89.2,207.9 89.5,209.5 89.8,210.3 90.0,208.4 90.2,209.9 90.5,210.3 90.8,209.2 91.0,210.1 91.2,209.4 91.5,209.0 91.8,207.9 92.0,208.5 92.2,208.3 92.5,211.0 92.8,209.5 93.0,209.2 93.2,208.3 93.5,210.5 93.8,208.4 94.0,210.0 94.2,209.3 94.5,208.1 94.8,207.4 94.9,207.5 95.2,207.5 95.5,208.9 95.8,210.1 96.0,209.8 96.2,210.0 96.5,208.8 96.8,209.5 97.0,208.6 97.2,209.0 97.5,209.8 97.8,211.1 98.0,209.3 98.2,209.3 98.5,208.0 98.8,209.4 99.0,208.7 99.2,208.3 99.5,208.2 99.8,209.4 100.0,209.0 100.2,209.8 100.5,209.1 100.8,209.3 101.0,210.3 101.2,209.9 101.5,209.8 101.8,210.3 102.0,209.5 102.2,208.6 102.5,208.7 102.8,208.2 103.0,209.5 103.2,209.0 103.5,209.7 103.8,209.9 104.0,208.7 104.2,209.4 104.5,210.2 104.8,209.4 105.0,210.0 105.2,209.2 105.5,208.6 105.8,209.1 106.0,208.0 106.2,209.8 106.5,208.9 106.8,210.3 107.0,208.4 107.2,209.4 107.5,209.5 107.8,209.2 108.0,209.6 108.2,208.8 108.5,208.5 108.8,208.3 109.0,208.9 109.2,208.7 109.5,209.5 109.8,209.0 110.0,208.8 110.2,208.8 110.5,207.9 110.8,209.0 111.0,209.6 111.2,208.3 111.5,209.1 111.8,209.8 112.0,208.8 112.2,209.4 112.5,209.0 112.8,211.1 113.0,210.3 113.2,210.1 113.5,208.8 113.8,209.8 114.0,209.2 114.2,209.6 114.5,208.9 114.8,209.4 115.0,208.7 115.2,209.5 115.5,210.6 115.8,208.3 116.0,208.3 116.2,209.7 116.5,209.9 116.8,209.0 117.0,209.7 117.2,209.6 117.5,209.7 117.8,210.3 118.0,208.8 118.2,209.8 118.5,209.4 118.8,208.8 119.0,209.7 119.2,208.4 119.5,208.2 119.8,210.1 120.0,208.5 120.2,210.5 120.5,210.1 120.8,208.9 121.0,208.7 121.2,207.7 121.5,209.2 121.8,208.1 122.0,210.4 122.2,208.1 122.5,209.3 122.8,207.3 123.0,209.0 123.2,210.3 123.5,209.0 123.8,208.7 124.0,208.9 124.2,209.6 124.5,209.9 124.8,209.1 125.0,207.8 125.2,209.5 125.5,210.0 125.8,211.0 126.0,209.4 126.2,209.4 126.5,208.9 126.8,209.8 127.0,210.6 127.2,208.6 127.5,209.4 127.8,208.5 128.0,208.8 128.2,209.2 128.5,209.7 128.8,208.7 129.0,209.1 129.2,210.3 129.5,209.7 129.8,209.8 130.0,209.6 130.2,209.2 130.5,209.6 130.8,209.7 131.0,209.3 131.2,210.1 131.5,209.3 131.8,210.0 132.0,209.3 132.2,209.8 132.5,208.8 132.8,208.9 133.0,208.4 133.2,210.2 133.5,209.7 133.8,209.5 134.0,209.8 134.2,208.7 134.5,209.4 134.8,208.9 135.0,207.9 135.2,209.1 135.5,208.7 135.8,210.3 136.0,208.7 136.2,208.8 136.5,210.0 136.8,209.3 137.0,208.3 137.2,209.5 137.5,208.7 137.8,210.6 138.0,208.5 138.2,208.7 138.5,207.3 138.8,208.8 139.0,210.7 139.2,209.2 139.5,208.6 139.8,209.5 140.0,209.1 140.2,209.3 140.5,211.1 140.8,210.8 141.0,210.5 141.2,210.5 141.5,208.6 141.8,207.8 142.0,209.8 142.2,209.6 142.5,209.3 142.8,209.2 143.0,209.8 143.2,209.7 143.5,209.5 143.8,209.7 144.0,209.1 144.2,209.0 144.5,210.3 144.8,209.1 145.0,210.8 145.2,209.8 145.5,209.3 145.8,210.1 146.0,208.9 146.2,209.2 146.5,209.0 146.8,209.3 147.0,209.8 147.2,210.8 147.5,209.7 147.8,208.5 148.0,208.7 148.2,208.0 148.5,209.8 148.8,210.0 149.0,209.5 149.2,209.6 149.5,209.7 149.8,209.6 150.0,209.8 150.2,209.5 150.5,208.6 150.8,210.0 151.0,210.3 151.2,208.1 151.5,209.1 151.8,208.5 152.0,209.7 152.2,209.1 152.5,210.4 152.8,210.1 153.0,209.0 153.2,208.9 153.5,208.9 153.8,209.7 154.0,208.6 154.2,209.6 154.5,208.3 154.8,210.1 155.0,209.7 155.2,208.4 155.5,208.7 155.8,209.4 156.0,209.5 156.2,207.2 156.5,209.4 156.8,210.4 157.0,209.0 157.2,208.3 157.5,210.2 157.8,209.5 158.0,209.4 158.2,209.8 158.5,208.4 158.8,208.8 159.0,208.5 159.2,208.4 159.5,209.1 159.8,208.5 160.0,210.5 160.2,209.7 160.5,209.9 160.8,208.1 161.0,209.1 161.2,209.2 161.5,209.4 161.8,209.6 162.0,208.7 162.2,208.6 162.5,210.0 162.8,211.0 163.0,210.9 163.2,209.1 163.5,208.7 163.8,209.4 164.0,209.6 164.2,210.6 164.5,209.1 164.8,208.7 165.0,210.1 165.2,208.8 165.5,208.7 165.8,209.7 166.0,209.2 166.2,208.5 166.5,209.1 166.8,209.0 167.0,209.1 167.2,208.7 167.5,209.7 167.8,209.0 168.0,208.8 168.2,210.1 168.5,208.6 168.8,209.8 169.0,208.8 169.2,203.5 169.6,193.6 169.8,196.2 170.0,205.0 170.2,208.2 170.5,208.6 170.8,209.5 171.0,208.7 171.2,209.4 171.5,209.6 171.8,210.1 172.0,209.6 172.2,210.1 172.5,208.7 172.8,209.0 173.0,209.8 173.2,210.2 173.5,209.6 173.8,208.9 174.0,208.5 174.2,208.6 174.5,210.1 174.8,208.6 175.0,209.1 175.2,209.8 175.5,209.6 175.8,208.8 176.0,210.8 176.2,209.4 176.5,209.5 176.8,209.9 177.0,209.1 177.2,209.8 177.5,209.2 177.8,208.6 178.0,208.6 178.2,209.6 178.5,209.4 178.8,209.2 179.0,209.0 179.2,209.1 179.5,209.9 179.8,210.1 180.0,209.1 180.2,209.5 180.5,207.9 180.8,208.4 181.0,208.8 181.2,208.6 181.5,209.8 181.8,207.7 182.0,209.7 182.2,209.8 182.5,211.0 182.8,208.9 183.0,209.6 183.2,210.4 183.5,210.0 183.8,208.6 184.0,209.0 184.2,208.4 184.5,209.4 184.8,209.8 185.0,210.3 185.2,209.7 185.5,210.0 185.8,210.1 186.0,208.7 186.2,209.8 186.5,210.0 186.8,209.2 187.0,208.6 187.2,209.4 187.5,209.4 187.8,209.8 188.0,208.0 188.2,209.0 188.5,210.8 188.8,210.3 189.0,209.2 189.2,209.1 189.5,209.1 189.8,208.6 190.0,209.0 190.2,209.3 190.5,208.4 190.8,209.3 191.0,209.5 191.2,208.4 191.5,209.0 191.8,208.2 192.0,209.4 192.2,209.5 192.5,208.9 192.8,209.4 193.0,209.7 193.2,209.8 193.5,208.3 193.8,209.1 194.0,208.3 194.2,207.9 194.5,210.1 194.8,209.9 195.0,210.3 195.2,209.9 195.5,209.0 195.8,209.5 196.0,208.9 196.2,210.4 196.5,207.6 196.8,209.6 197.0,208.9 197.2,209.9 197.5,210.2 197.8,208.9 198.0,210.4 198.2,210.2 198.5,208.2 198.8,210.7 199.0,208.5 199.2,208.3 199.5,210.1 199.8,208.8 200.0,209.5 200.2,209.3 200.5,208.6 200.8,210.5 201.0,210.5 201.2,209.4 201.5,210.5 201.8,209.3 202.0,209.5 202.2,209.1 202.5,208.4 202.8,209.1 203.0,208.6 203.2,209.7 203.5,209.5 203.8,208.9 204.0,210.3 204.2,209.6 204.5,210.7 204.8,209.1 205.0,209.1 205.2,208.8 205.5,209.5 205.8,209.2 206.0,209.4 206.2,210.7 206.5,210.0 206.8,208.9 207.0,209.7 207.2,209.2 207.5,209.1 207.8,209.2 208.0,209.4 208.2,209.9 208.5,210.1 208.8,209.4 209.0,208.8 209.2,209.4 209.5,209.2 209.8,209.2 210.0,208.5 210.2,209.3 210.5,208.0 210.8,210.3 211.0,209.9 211.2,209.9 211.5,208.7 211.8,209.6 212.0,210.3 212.2,209.2 212.5,208.6 212.8,209.3 213.0,207.7 213.2,210.1 213.5,209.7 213.8,208.3 214.0,209.9 214.2,210.2 214.5,209.9 214.8,209.9 215.0,210.5 215.2,209.6 215.5,210.4 215.8,209.2 216.0,208.9 216.2,209.1 216.5,208.6 216.8,209.7 217.0,208.9 217.2,209.7 217.5,209.6 217.8,210.6 218.0,210.7 218.2,209.0 218.5,209.3 218.8,209.3 219.0,208.9 219.2,210.8 219.5,210.3 219.8,209.2 220.0,208.4 220.2,208.9 220.5,209.4 220.8,210.6 221.0,208.4 221.2,210.5 221.5,208.3 221.8,209.7 222.0,208.5 222.2,209.1 222.5,207.6 222.8,209.9 223.0,209.4 223.2,208.6 223.5,207.8 223.8,209.3 224.0,209.4 224.2,208.3 224.5,209.8 224.8,209.3 225.0,208.5 225.2,208.8 225.5,207.5 225.8,210.0 226.0,210.1 226.2,209.3 226.5,208.4 226.8,208.5 227.0,209.2 227.2,208.7 227.5,209.6 227.8,208.7 228.0,210.1 228.2,210.3 228.5,209.0 228.8,208.8 229.0,207.2 229.2,209.4 229.5,209.7 229.8,208.7 230.0,210.3 230.2,208.9 230.5,208.5 230.8,210.0 231.0,209.8 231.2,207.8 231.5,208.9 231.8,208.4 232.0,209.2 232.2,209.6 232.5,209.1 232.8,209.5 233.0,210.1 233.2,209.2 233.5,208.4 233.8,208.7 234.0,210.1 234.2,210.7 234.5,209.3 234.8,209.7 235.0,208.8 235.2,209.0 235.5,210.2 235.8,209.0 236.0,209.6 236.2,209.5 236.5,210.3 236.8,209.6 237.0,209.4 237.2,209.2 237.5,209.0 237.8,210.2 238.0,211.1 238.2,208.2 238.5,210.2 238.8,208.7 239.0,209.0 239.2,209.2 239.5,209.1 239.8,209.1 240.0,209.0 240.2,210.8 240.5,208.3 240.8,208.9 241.0,208.8 241.2,209.6 241.5,208.4 241.8,209.4 242.0,209.5 242.2,210.9 242.5,209.9 242.8,209.4 243.0,209.5 243.2,210.8 243.5,209.4 243.8,208.9 244.0,209.0 244.2,209.2 244.5,210.1 244.8,208.7 245.0,209.0 245.2,209.4 245.5,208.7 245.8,209.9 246.0,209.1 246.2,209.8 246.5,209.8 246.8,210.6 247.0,210.8 247.2,208.8 247.5,208.4 247.8,208.6 248.0,209.8 248.2,209.9 248.5,209.4 248.8,209.4 249.0,210.6 249.2,210.1 249.5,209.6 249.8,209.9 250.0,208.3 250.2,210.4 250.5,211.0 250.8,209.6 251.0,209.1 251.2,210.4 251.5,209.1 251.8,209.5 252.0,209.9 252.2,209.3 252.5,210.0 252.8,208.0 253.0,207.6 253.2,210.0 253.5,209.9 253.8,209.6 254.0,209.2 254.2,209.5 254.5,209.8 254.8,208.6 255.0,209.7 255.2,208.9 255.5,211.1 255.8,209.8 256.0,209.7 256.2,210.3 256.5,210.2 256.8,210.2 257.0,209.0 257.2,209.6 257.5,210.2 257.8,209.7 258.0,209.6 258.2,209.0 258.5,209.6 258.8,210.5 259.0,208.6 259.2,208.4 259.5,208.6 259.8,208.3 260.0,210.5 260.2,210.9 260.5,209.9 260.8,209.6 261.0,210.6 261.2,210.3 261.5,207.8 261.8,209.4 262.0,211.4 262.2,209.1 262.5,208.2 262.8,205.2 263.0,202.3 263.2,205.2 263.5,208.8 263.8,210.3 264.0,209.6 264.2,209.5 264.5,208.7 264.8,208.6 265.0,210.3 265.2,208.5 265.5,210.4 265.8,210.5 266.0,210.8 266.2,209.5 266.5,209.0 266.8,209.8 267.0,210.7 267.2,210.1 267.5,210.1 267.8,209.7 268.0,210.5 268.2,208.3 268.5,209.0 268.8,211.1 269.0,210.3 269.2,210.5 269.5,208.5 269.8,209.3 270.0,209.7 270.2,210.0 270.5,211.0 270.8,209.6 271.0,210.2 271.2,209.6 271.5,210.0 271.8,210.5 272.0,210.5 272.2,211.0 272.5,209.3 272.8,210.9 273.0,210.7 273.2,209.7 273.5,211.4 273.8,209.9 274.0,210.1 274.2,210.8 274.5,211.5 274.8,210.2 275.0,211.6 275.2,210.8 275.5,209.9 275.8,211.1 276.0,210.6 276.2,210.0 276.5,210.4 276.8,211.5 277.0,210.8 277.2,210.3 277.5,211.1 277.8,209.5 278.0,211.0 278.2,211.6 278.5,209.6 278.8,209.7 279.0,209.9 279.2,210.4 279.5,210.0 279.8,210.5 280.0,209.8 280.2,210.8 280.5,211.0 280.8,210.9 281.0,210.1 281.2,211.2 281.5,209.4 281.8,210.1 282.0,210.5 282.2,211.6 282.5,210.3 282.8,211.0 283.0,211.8 283.2,212.1 283.5,211.9 283.8,210.0 284.0,210.8 284.2,211.0 284.5,211.1 284.8,211.0 285.0,210.5 285.2,210.6 285.5,209.5 285.8,211.2 286.0,210.9 286.2,210.2 286.5,212.0 286.8,210.6 287.0,210.1 287.2,211.1 287.5,211.0 287.8,211.1 288.0,210.6 288.2,211.2 288.5,210.7 288.8,211.6 289.0,210.9 289.2,210.0 289.5,209.9 289.8,211.1 290.0,211.4 290.2,209.5 290.5,211.1 290.8,210.6 291.0,210.9 291.2,210.0 291.5,209.8 291.8,210.2 292.0,210.0 292.2,210.3 292.5,210.7 292.8,210.7 293.0,212.1 293.2,209.9 293.5,210.3 293.8,210.8 294.0,211.2 294.2,209.9 294.5,209.6 294.8,210.9 295.0,211.0 295.2,211.1 295.5,211.2 295.8,209.5 296.0,211.5 296.2,210.6 296.5,212.3 296.8,210.4 297.0,209.0 297.2,210.6 297.5,210.9 297.8,211.0 298.0,210.9 298.2,210.3 298.5,209.4 298.8,210.6 299.0,210.5 299.2,210.2 299.5,210.8 299.8,210.5 300.0,209.2 300.2,210.1 300.5,210.1 300.8,210.5 301.0,212.0 301.2,210.7 301.5,211.2 301.8,209.1 302.0,211.7 302.2,210.3 302.5,211.2 302.8,209.9 303.0,210.7 303.2,211.4 303.5,210.7 303.8,210.9 304.0,210.2 304.2,210.2 304.5,211.0 304.8,210.6 305.0,210.9 305.2,210.3 305.5,210.5 305.8,211.4 306.0,211.9 306.2,210.5 306.5,210.3 306.8,210.9 307.0,211.5 307.2,211.0 307.5,211.6 307.8,210.7 308.0,210.1 308.2,209.3 308.5,211.5 308.8,211.0 309.0,210.3 309.2,211.1 309.5,209.9 309.8,211.6 310.0,211.6 310.2,211.7 310.5,210.5 310.8,211.9 311.0,211.5 311.2,212.1 311.5,209.5 311.8,211.6 312.0,211.9 312.2,210.6 312.5,211.6 312.8,210.9 313.0,212.0 313.2,210.7 313.5,210.9 313.8,210.0 314.0,212.5 314.2,210.2 314.5,210.1 314.8,210.2 315.0,210.9 315.2,210.9 315.5,211.2 315.8,212.1 316.0,211.7 316.2,209.8 316.5,211.0 316.8,210.8 317.0,211.5 317.2,211.0 317.5,211.9 317.8,211.0 318.0,212.4 318.2,210.2 318.5,211.8 318.8,211.6 319.0,210.3 319.2,209.9 319.5,210.4 319.8,211.2 320.0,212.2 320.2,209.8 320.5,210.7 320.8,209.9 321.0,211.6 321.2,211.1 321.5,211.0 321.8,211.5 322.0,211.2 322.2,212.1 322.5,210.7 322.8,210.5 323.0,211.0 323.2,210.9 323.5,212.0 323.8,210.6 324.0,210.5 324.2,210.4 324.5,210.3 324.8,209.4 325.0,211.1 325.2,211.4 325.5,211.1 325.8,210.3 326.0,211.7 326.2,211.6 326.5,211.2 326.8,211.5 327.0,210.9 327.2,211.3 327.5,211.4 327.8,210.0 328.0,210.6 328.2,210.4 328.5,211.3 328.8,208.8 329.0,211.2 329.2,211.0 329.5,210.9 329.8,211.4 330.0,209.7 330.2,211.2 330.5,210.4 330.8,210.5 331.0,212.2 331.2,210.7 331.5,212.0 331.8,211.0 332.0,210.8 332.2,210.7 332.5,209.8 332.8,210.7 333.0,211.2 333.2,212.3 333.5,211.7 333.8,211.8 334.0,210.2 334.2,210.4 334.5,211.4 334.8,211.5 335.0,210.1 335.2,212.0 335.5,210.5 335.8,211.3 336.0,210.6 336.2,211.8 336.5,211.9 336.8,212.0 337.0,210.3 337.2,211.2 337.5,213.2 337.8,211.1 338.0,211.5 338.2,211.2 338.5,210.6 338.8,212.7 339.0,212.6 339.2,210.5 339.5,211.6 339.8,212.9 340.0,211.6 340.2,211.2 340.5,212.1 340.8,211.9 341.0,210.0 341.2,210.4 341.5,212.7 341.8,210.6 342.0,211.1 342.2,210.5 342.5,213.0 342.8,210.0 343.0,211.3 343.2,210.8 343.5,210.9 343.8,210.0 344.0,210.4 344.2,211.0 344.5,211.4 344.8,209.4 345.0,211.3 345.2,210.3 345.5,211.1 345.8,210.8 346.0,211.1 346.2,211.0 346.5,211.7 346.8,211.2 347.0,209.5 347.2,208.8 347.5,209.8 347.8,211.5 348.0,209.5 348.2,210.2 348.5,213.1 348.8,210.9 349.0,211.0 349.2,211.6 349.5,211.9 349.8,210.7 350.0,211.3 350.2,209.1 350.5,211.6 350.8,211.8 351.0,209.4 351.2,212.2 351.5,213.2 351.8,208.6 352.0,211.0 352.2,212.7 352.5,212.0 352.8,210.5 353.0,210.6 353.2,210.9 353.5,212.0 353.8,210.4 354.0,209.7 354.2,211.4 354.5,210.4 354.8,213.1 355.0,210.2 355.2,211.6 355.5,211.0 355.8,209.7 356.0,210.7 356.2,209.1 356.5,211.7 356.8,210.3 357.0,209.9 357.2,209.6 357.5,212.8 357.8,211.9 358.0,210.2 358.2,211.1 358.5,212.0 358.8,212.0 359.0,211.3 359.2,209.0 359.5,213.2 359.8,211.2 360.0,212.9 360.2,209.9 360.5,212.2 360.8,212.8 361.0,212.6 361.2,210.0 361.5,211.1 361.8,213.1 362.0,210.4 362.2,212.1 362.5,211.2 362.8,209.7 363.0,212.5 363.2,212.6 363.5,212.1 363.8,211.7 364.0,212.6 364.2,209.1 364.5,211.3 364.8,213.4 365.0,212.0 365.2,212.7 365.5,211.1 365.8,211.8 366.0,210.0 366.2,212.0 366.5,211.7 366.8,211.0 367.0,211.4 367.2,211.5 367.5,211.7 367.8,212.3 368.0,212.6 368.2,208.9 368.5,210.8 368.8,207.6 369.0,205.1 369.2,207.6 369.5,212.7 369.8,210.7 370.0,212.7 370.2,211.8 370.5,209.7 370.8,211.2 371.0,209.3 371.2,211.0 371.5,212.6 371.8,212.3 372.0,211.8 372.2,210.8 372.5,212.3 372.8,213.0 373.0,212.4 373.2,212.7 373.5,212.1 373.8,212.1 374.0,210.4 374.2,213.4 374.5,210.2 374.8,210.4 375.0,210.6 375.2,210.6 375.5,213.2 375.8,211.3 376.0,211.2 376.2,211.2 376.5,211.5 376.8,213.2 377.0,213.4 377.2,211.0 377.5,213.7 377.8,212.3 378.0,212.0 378.2,213.2 378.5,211.7 378.8,212.0 379.0,211.8 379.2,210.1 379.5,210.0 379.8,210.3 380.0,210.5 380.2,210.8 380.5,210.9 380.8,213.0 381.0,211.6 381.2,212.6 381.5,212.0 381.8,210.5 382.0,211.2 382.2,209.6 382.5,209.3 382.8,212.1 383.0,211.6 383.2,211.7 383.5,212.9 383.8,209.8 384.0,211.4 384.2,208.6 384.5,210.4 384.8,212.4 385.0,209.6 385.2,209.9 385.5,211.2 385.8,213.9 386.0,212.6 386.2,211.4 386.5,212.4 386.8,211.7 387.0,211.1 387.2,210.9 387.5,212.2 387.8,211.5 388.0,212.7 388.2,210.9 388.5,212.8 388.8,211.1 389.0,213.2 389.2,213.0 389.5,210.7 389.8,214.8 390.0,212.2 390.2,210.7 390.5,209.9 390.8,211.8 391.0,211.9 391.2,210.6 391.5,210.2 391.8,211.0 392.0,210.2 392.2,210.8 392.5,210.5 392.8,212.3 393.0,208.2 393.2,214.5 393.5,211.1 393.8,211.6 394.0,209.8 394.2,213.2 394.5,211.5 394.8,211.2 395.0,210.4 395.2,212.6 395.5,212.4 395.8,210.8 396.0,214.0 396.2,210.4 396.5,213.4 396.8,212.0 397.0,209.8 397.2,211.4 397.5,212.5 397.8,211.1 398.0,211.9 398.2,211.6 398.5,212.3 398.8,210.8 399.0,214.4 399.2,212.2 399.5,213.9 399.8,211.4 400.0,212.1 400.2,210.4 400.5,211.8 400.8,214.0 401.0,212.2 401.2,210.7 401.5,211.0 401.8,212.6 402.0,211.5 402.2,214.8 402.5,212.1 402.8,211.8 403.0,212.9 403.2,214.2 403.5,209.6 403.8,210.8 404.0,210.8 404.2,208.9 404.5,211.6 404.8,211.7 405.0,213.1 405.2,212.8 405.5,212.8 405.8,212.7 406.0,211.2 406.2,216.1 406.5,214.1 406.8,211.4 407.0,210.5 407.2,212.6 407.5,213.4 407.8,212.6 408.0,213.0 408.2,213.3 408.5,212.5 408.8,210.5 409.0,211.1 409.2,209.2 409.5,213.3 409.8,211.1 410.0,212.1 410.2,215.1 410.5,210.7 410.8,211.9 411.0,210.6 411.2,209.1 411.5,213.4 411.8,211.7 412.0,211.8 412.2,213.1 412.5,211.6 412.8,213.0 413.0,213.9 413.2,210.8 413.5,212.6 413.8,212.1 414.0,213.6 414.2,215.7 414.5,210.4 414.8,214.3 415.0,212.1 415.2,213.0 415.5,212.5 415.8,211.7 416.0,210.0 416.2,211.9 416.5,210.5 416.8,214.2 417.0,212.6 417.2,211.0 417.5,211.4 417.8,213.7 418.0,209.7 418.2,212.2 418.5,212.2 418.8,210.5 419.0,213.6 419.2,211.3 419.5,213.6 419.8,212.3 420.0,211.0 420.2,211.8 420.5,213.6 420.8,210.5 421.0,210.6 421.2,211.8 421.5,212.9 421.8,213.0 422.0,210.4 422.2,210.1 422.5,211.8 422.8,211.6 423.0,212.4 423.2,209.5 423.5,211.2 423.8,210.2 424.0,214.6 424.2,208.6 424.5,210.5 424.8,211.1 425.0,209.1 425.2,211.2 425.5,210.7 425.8,209.4 426.0,211.2 426.2,214.1 426.5,212.2 426.8,214.2 427.0,214.1 427.2,212.2 427.5,211.5 427.8,208.4 428.0,208.6 428.2,212.4 428.5,212.1 428.8,212.3 429.0,210.6 429.2,211.5 429.5,210.2 429.8,213.5 430.0,212.2 430.2,208.6 430.5,211.0 430.8,214.1 431.0,210.3 431.2,210.2 431.5,210.4 431.8,211.1 432.0,212.2 432.2,211.7 432.5,212.3 432.8,211.1 433.0,213.1 433.2,214.4 433.5,210.6 433.8,212.5 434.0,212.6 434.2,212.4 434.5,212.0 434.8,212.9 435.0,211.7 435.2,211.0 435.5,210.8 435.8,213.3 436.0,211.2 436.2,209.0 436.5,211.3 436.8,211.2 437.0,213.6 437.2,213.8 437.5,210.2 437.8,214.2 438.0,212.7 438.2,214.8 438.5,211.2 438.8,213.2 439.0,213.4 439.2,214.8 439.5,209.9 439.8,212.1 440.0,212.3 440.2,211.8 440.5,210.6 440.8,211.7 441.0,212.3 441.2,215.5 441.5,212.2 441.8,214.0 442.0,211.3 442.2,212.5 442.5,212.1 442.8,212.3 443.0,209.7 443.2,212.2 443.5,216.7 443.8,212.2 444.0,209.9 444.2,216.1 444.5,213.0 444.8,212.8 445.0,209.5 445.2,211.7 445.5,211.8 445.8,211.9 446.0,210.5 446.2,213.3 446.5,209.9 446.8,214.2 447.0,212.2 447.2,211.4 447.5,209.5 447.8,212.8 448.0,212.8 448.2,209.7 448.5,215.1 448.8,211.8 449.0,209.6 449.2,214.3 449.5,210.4 449.8,210.7 450.0,209.8 450.2,210.6 450.5,211.7 450.8,210.3 451.0,212.7 451.2,210.4 451.5,212.0 451.8,208.3 452.0,211.3 452.2,212.1 452.5,213.2 452.8,211.6 453.0,212.4 453.2,212.8 453.5,210.7 453.8,213.1 454.0,212.7 454.2,211.3 454.5,210.1 454.8,214.3 455.0,214.0 455.2,212.5 455.5,214.0 455.8,214.7 456.0,212.0 456.2,213.2 456.5,213.2 456.8,213.0 457.0,212.0 457.2,211.5 457.5,213.5 457.8,212.6 458.0,215.0 458.2,213.0 458.5,212.4 458.8,210.2 459.0,212.0 459.2,212.7 459.5,212.0 459.8,211.0 460.0,207.4 460.2,210.7 460.5,212.4 460.8,214.9 461.0,210.3 461.2,213.1 461.5,210.0 461.8,213.8 462.0,211.8 462.2,212.2 462.5,212.8 462.8,211.1 463.0,211.0 463.2,213.8 463.5,209.8 463.8,210.6 464.0,213.4 464.2,213.3 464.5,210.8 464.8,210.8 465.0,212.3 465.2,215.2 465.5,214.5 465.8,211.6 466.0,211.1 466.2,211.9 466.5,209.1 466.8,212.5 467.0,211.3 467.2,213.7 467.5,210.7 467.8,212.5 468.0,211.0 468.2,211.1 468.5,214.9 468.8,210.5 469.0,211.8 469.2,212.6 469.5,215.1 469.8,212.4 470.0,211.2 470.2,212.4 470.5,214.8 470.8,212.8 471.0,213.0 471.2,215.6 471.5,210.5 471.8,213.8 472.0,210.5 472.2,213.9 472.5,212.8 472.8,212.9 473.0,212.3 473.2,212.3 473.5,207.1 473.8,209.9 474.0,215.3 474.2,212.0 474.5,211.6 474.8,212.8 475.0,213.4 475.2,212.1 475.5,213.5 475.8,212.8 476.0,210.8 476.2,212.1 476.5,213.4 476.8,210.3 477.0,211.8 477.2,210.5 477.5,211.3 477.8,209.2 478.0,211.9 478.2,210.7 478.5,213.5 478.8,211.1 479.0,215.0 479.2,213.5 479.5,210.5 479.8,215.0 480.0,211.9 480.2,212.3 480.5,209.6 480.8,211.5 481.0,210.6 481.2,209.5 481.5,209.8 481.8,213.8 482.0,210.7 482.2,211.5 482.5,210.3 482.8,210.8 483.0,210.7 483.2,211.3 483.5,211.6 483.8,212.9 484.0,211.4 484.2,211.2 484.5,210.1 484.8,212.4 485.0,212.1 485.2,210.9 485.5,208.5 485.8,211.2 486.0,208.1 486.2,213.7 486.5,211.4 486.8,213.4 487.0,211.0 487.2,212.7 487.5,214.0 487.8,212.7 488.0,209.7 488.2,208.9 488.5,210.4 488.8,211.6 489.0,209.4 489.2,208.2 489.5,210.2 489.8,210.9 490.0,208.2 490.2,210.9 490.5,212.3 490.8,209.3 491.0,211.3 491.2,210.9 491.5,211.5 491.8,211.5 492.0,209.5 492.2,211.9 492.5,214.3 492.8,211.6 493.0,208.8 493.2,210.5 493.5,214.0 493.8,210.7 494.0,211.2 494.2,208.9 494.5,208.5 494.8,210.8 495.0,211.5 495.2,209.9 495.5,211.5 495.8,210.3 496.0,207.6 496.2,210.4 496.5,211.8 496.8,214.5 497.0,208.6 497.2,211.4 497.5,211.4 497.8,211.6 498.0,211.1 498.2,213.3 498.5,212.7 498.8,209.8 499.0,209.5 499.2,210.9 499.5,208.5 499.8,211.1 500.0,212.1 500.2,210.0 500.5,210.4 500.8,209.7 501.0,211.0 501.2,211.6 501.5,209.2 501.8,212.2 502.0,209.3" stroke="#00f" stroke-width="1.4"/>
<polyline points="12.0,432.0 12.2,433.3 12.5,430.7 12.8,432.9 13.0,431.4 13.2,431.4 13.5,433.9 13.8,431.8 14.0,431.5 14.2,432.4 14.5,432.8 14.8,431.4 15.0,432.1 15.2,430.2 15.5,430.9 15.8,430.8 16.0,429.7 16.2,429.5 16.5,429.3 16.8,430.8 17.0,430.3 17.2,427.7 17.6,423.5 17.8,424.5 18.0,428.4 18.2,430.7 18.5,431.8 18.8,429.9 19.0,430.4 19.2,428.4 19.5,430.2 19.8,428.1 20.0,429.0 20.2,432.0 20.5,428.0 20.8,429.5 21.0,424.4 21.3,419.3 21.5,421.9 21.8,427.6 22.0,431.1 22.2,430.1 22.5,429.7 22.8,429.6 23.0,429.1 23.2,430.2 23.5,429.3 23.8,431.4 24.0,427.9 24.2,428.8 24.5,428.9 24.8,427.6 25.0,432.2 25.2,427.1 25.5,429.6 25.8,429.3 26.0,431.9 26.2,427.6 26.5,431.2 26.8,429.1 27.0,429.7 27.2,429.1 27.5,430.6 27.8,428.5 28.0,429.8 28.2,430.3 28.5,432.0 28.8,427.0 29.0,431.6 29.2,430.9 29.5,429.2 29.8,430.1 30.0,429.2 30.2,431.7 30.5,430.0 30.8,429.5 31.0,429.4 31.2,429.5 31.5,429.5 31.8,428.6 32.0,431.7 32.2,427.1 32.5,425.6 32.7,424.4 33.0,426.7 33.2,429.2 33.5,429.3 33.8,429.4 34.0,430.0 34.2,430.7 34.5,429.0 34.8,429.1 35.0,431.8 35.2,430.1 35.5,428.3 35.8,432.2 36.0,430.4 36.2,428.8 36.5,428.1 36.8,429.8 37.0,428.4 37.2,428.2 37.5,427.9 37.8,428.8 38.0,430.7 38.2,428.9 38.5,427.7 38.8,430.1 39.0,429.4 39.2,430.3 39.5,430.7 39.8,429.1 40.0,429.1 40.2,429.2 40.5,427.9 40.8,430.0 41.0,430.8 41.2,429.4 41.5,428.9 41.8,428.6 42.0,427.1 42.2,425.1 42.4,424.4 42.8,426.7 43.0,428.3 43.2,427.3 43.5,429.5 43.8,429.1 44.0,427.7 44.2,426.4 44.5,429.0 44.8,430.3 45.0,428.2 45.2,428.5 45.5,428.3 45.8,429.7 46.0,427.9 46.2,430.1 46.5,428.6 46.8,430.0 47.0,429.0 47.2,428.7 47.5,427.2 47.8,428.1 48.0,428.6 48.2,429.6 48.5,429.1 48.8,428.0 49.0,429.3 49.2,430.0 49.5,428.6 49.8,428.3 50.0,428.3 50.2,429.7 50.5,429.4 50.8,427.7 51.0,429.2 51.2,428.2 51.5,427.8 51.8,430.1 52.0,429.6 52.2,427.8 52.5,428.8 52.8,429.2 53.0,427.9 53.2,428.5 53.5,429.4 53.8,426.6 54.0,429.0 54.2,429.4 54.5,429.1 54.8,427.0 55.0,428.9 55.2,427.5 55.5,429.2 55.8,429.2 56.0,428.7 56.2,427.6 56.5,427.8 56.8,429.4 57.0,427.4 57.2,429.0 57.5,429.0 57.8,428.1 58.0,430.9 58.2,427.6 58.5,424.8 58.8,420.0 59.0,417.2 59.2,420.0 59.5,424.8 59.8,427.2 60.0,428.1 60.2,426.1 60.5,427.6 60.8,427.1 61.0,428.0 61.2,428.3 61.5,425.3 61.8,422.8 62.0,424.1 62.2,426.6 62.5,428.2 62.8,427.9 63.0,429.7 63.2,427.3 63.5,430.4 63.8,427.1 64.0,429.4 64.2,427.4 64.5,430.1 64.8,428.4 65.0,428.7 65.2,429.1 65.5,427.5 65.8,427.0 66.0,425.9 66.2,429.6 66.5,427.4 66.8,427.5 67.0,428.2 67.2,430.5 67.5,426.2 67.8,428.5 68.0,427.7 68.2,428.8 68.5,426.2 68.8,427.7 69.0,429.1 69.2,429.9 69.5,430.0 69.8,427.2 70.0,428.2 70.2,428.0 70.5,426.6 70.8,426.5 71.0,429.0 71.2,428.4 71.5,428.0 71.8,429.5 72.0,427.0 72.2,428.7 72.5,428.1 72.8,428.1 73.0,428.7 73.2,428.3 73.5,428.4 73.8,428.4 74.0,430.3 74.2,427.8 74.5,429.2 74.8,428.8 75.0,427.7 75.2,429.0 75.5,427.1 75.8,429.4 76.0,427.2 76.2,427.5 76.5,428.4 76.8,429.0 77.0,429.1 77.2,429.1 77.5,427.8 77.8,427.0 78.0,428.7 78.2,428.4 78.5,427.0 78.8,429.1 79.0,428.3 79.2,427.0 79.5,428.4 79.8,426.1 80.0,425.2 80.2,424.4 80.5,425.4 80.8,427.6 81.0,426.5 81.2,428.8 81.5,427.2 81.8,428.2 82.0,426.3 82.2,427.6 82.5,429.1 82.8,428.5 83.0,425.9 83.2,429.0 83.5,429.0 83.8,427.6 84.0,429.6 84.2,426.8 84.5,427.9 84.8,429.2 85.0,429.4 85.2,429.4 85.5,426.7 85.8,426.0 86.0,428.4 86.2,426.4 86.5,427.8 86.8,426.5 87.0,429.1 87.2,428.8 87.5,428.5 87.8,427.9 88.0,428.0 88.2,427.6 88.5,428.3 88.8,428.2 89.0,428.4 89.2,427.4 89.5,430.0 89.8,428.2 90.0,429.4 90.2,429.4 90.5,426.9 90.8,426.0 91.0,429.3 91.2,427.5 91.5,428.0 91.8,427.6 92.0,428.0 92.2,426.6 92.5,427.8 92.8,427.4 93.0,427.8 93.2,425.3 93.5,428.8 93.8,428.2 94.0,426.0 94.2,427.0 94.5,427.7 94.8,426.2 95.0,417.1 95.2,401.2 95.4,396.9 95.8,414.1 96.0,424.9 96.2,428.3 96.5,427.1 96.8,428.7 97.0,428.9 97.2,428.4 97.5,428.9 97.8,427.6 98.0,427.8 98.2,427.1 98.5,427.1 98.8,426.1 99.0,427.2 99.2,426.6 99.5,426.2 99.8,427.9 100.0,428.3 100.2,427.4 100.5,429.3 100.8,428.8 101.0,428.9 101.2,427.1 101.5,426.1 101.8,428.0 102.0,426.4 102.2,423.9 102.4,423.3 102.8,426.2 103.0,427.0 103.2,428.4 103.5,426.7 103.8,425.2 104.0,427.2 104.2,429.3 104.5,425.9 104.8,428.8 105.0,427.0 105.2,427.2 105.5,427.0 105.8,424.4 106.1,420.2 106.2,421.2 106.5,425.1 106.8,428.0 107.0,426.8 107.2,429.3 107.5,429.7 107.8,429.9 108.0,425.6 108.2,424.9 108.4,424.4 108.8,426.4 109.0,427.9 109.2,426.4 109.5,425.9 109.8,427.8 110.0,428.3 110.2,426.8 110.5,427.3 110.8,424.9 111.0,426.9 111.2,427.8 111.5,427.8 111.8,429.3 112.0,426.4 112.2,425.2 112.5,428.1 112.8,427.0 113.0,427.9 113.2,428.4 113.5,428.2 113.8,429.1 114.0,429.0 114.2,425.8 114.5,427.5 114.8,429.7 115.0,427.1 115.2,428.6 115.5,427.5 115.8,427.1 116.0,429.2 116.2,428.7 116.5,427.3 116.8,428.5 117.0,426.1 117.2,426.8 117.5,428.5 117.8,427.6 118.0,426.4 118.2,428.0 118.5,427.9 118.8,428.9 119.0,428.5 119.2,427.2 119.5,427.0 119.8,427.4 120.0,427.3 120.2,429.1 120.5,429.2 120.8,428.9 121.0,427.9 121.2,427.2 121.5,428.5 121.8,427.1 122.0,427.7 122.2,425.7 122.5,427.0 122.8,429.0 123.0,426.3 123.2,425.2 123.5,423.3 123.7,422.0 124.0,424.5 124.2,426.5 124.5,426.9 124.8,427.4 125.0,426.5 125.2,427.5 125.5,427.2 125.8,425.9 126.0,426.7 126.2,426.6 126.5,425.4 126.8,424.7 127.0,424.4 127.2,425.1 127.5,425.7 127.8,426.4 128.0,427.7 128.2,427.2 128.5,426.6 128.8,428.9 129.0,426.4 129.2,426.7 129.5,426.8 129.8,426.5 130.0,427.2 130.2,428.1 130.5,429.0 130.8,428.2 131.0,427.5 131.2,426.1 131.5,427.4 131.8,426.5 132.0,427.4 132.2,428.5 132.5,427.7 132.8,427.2 133.0,426.7 133.2,427.4 133.5,427.6 133.8,426.5 134.0,426.9 134.2,428.4 134.5,425.7 134.8,427.0 135.0,426.2 135.2,429.1 135.5,428.1 135.8,428.0 136.0,427.9 136.2,427.7 136.5,427.7 136.8,425.8 137.0,427.7 137.2,428.1 137.5,425.9 137.8,428.3 138.0,428.1 138.2,425.8 138.5,426.9 138.8,427.1 139.0,426.9 139.2,427.8 139.5,426.1 139.8,427.2 140.0,427.7 140.2,428.2 140.5,427.5 140.8,427.2 141.0,428.1 141.2,425.3 141.5,428.4 141.8,427.1 142.0,426.1 142.2,427.0 142.5,425.5 142.8,425.3 143.0,427.1 143.2,426.6 143.5,428.2 143.8,426.5 144.0,426.1 144.2,426.4 144.5,429.2 144.8,427.4 145.0,426.8 145.2,426.4 145.5,426.3 145.8,427.2 146.0,427.8 146.2,428.6 146.5,428.6 146.8,427.7 147.0,426.6 147.2,426.0 147.5,424.6 147.7,424.7 148.0,426.2 148.2,426.7 148.5,427.7 148.8,426.0 149.0,428.3 149.2,427.7 149.5,427.4 149.8,427.8 150.0,425.1 150.2,426.8 150.5,426.5 150.8,429.3 151.0,427.2 151.2,426.9 151.5,428.3 151.8,426.3 152.0,428.8 152.2,426.7 152.5,427.3 152.8,426.4 153.0,428.2 153.2,425.1 153.5,428.1 153.8,426.5 154.0,427.4 154.2,426.2 154.5,427.6 154.8,427.6 155.0,428.0 155.2,427.7 155.5,428.0 155.8,428.4 156.0,427.0 156.2,426.2 156.5,426.0 156.8,428.1 157.0,427.0 157.2,428.4 157.5,427.4 157.8,426.3 158.0,428.3 158.2,429.4 158.5,427.2 158.8,426.4 159.0,426.5 159.2,428.3 159.5,426.8 159.8,426.9 160.0,428.1 160.2,427.4 160.5,427.5 160.8,426.8 161.0,426.7 161.2,427.5 161.5,427.5 161.8,428.0 162.0,426.8 162.2,427.7 162.5,427.8 162.8,427.4 163.0,427.9 163.2,428.3 163.5,426.8 163.8,424.8 164.0,423.5 164.2,424.8 164.5,426.5 164.8,426.9 165.0,426.5 165.2,427.9 165.5,429.9 165.8,427.7 166.0,427.2 166.2,427.3 166.5,426.1 166.8,426.1 167.0,424.9 167.2,423.8 167.5,422.2 167.8,420.2 168.0,418.0 168.2,416.0 168.5,413.0 168.8,377.9 168.9,357.4 169.0,352.6 169.2,377.9 169.5,413.0 169.8,417.6 170.0,419.8 170.2,421.8 170.5,423.5 170.8,424.7 171.0,424.6 171.2,426.4 171.5,426.8 171.8,427.5 172.0,427.3 172.2,427.4 172.5,427.4 172.8,427.2 173.0,424.4 173.2,423.5 173.5,425.1 173.8,427.7 174.0,427.1 174.2,428.0 174.5,425.1 174.8,427.5 175.0,427.2 175.2,426.8 175.5,428.6 175.8,427.7 176.0,427.1 176.2,426.8 176.5,429.2 176.8,428.1 177.0,428.0 177.2,426.5 177.5,428.6 177.8,427.9 178.0,427.0 178.2,427.2 178.5,425.6 178.8,427.9 179.0,426.2 179.2,428.1 179.5,426.8 179.8,426.6 180.0,427.7 180.2,427.5 180.5,426.1 180.8,427.2 181.0,427.9 181.2,427.0 181.5,425.9 181.8,427.0 182.0,426.3 182.2,426.7 182.5,427.3 182.8,427.2 183.0,427.1 183.2,425.6 183.5,427.6 183.8,427.1 184.0,426.8 184.2,427.4 184.5,429.2 184.8,425.9 185.0,425.6 185.2,428.0 185.5,426.5 185.8,428.6 186.0,426.3 186.2,426.8 186.5,428.1 186.8,428.2 187.0,427.7 187.2,427.7 187.5,427.1 187.8,426.8 188.0,427.0 188.2,428.5 188.5,428.0 188.8,427.3 189.0,427.6 189.2,428.1 189.5,428.4 189.8,427.1 190.0,427.2 190.2,427.6 190.5,429.9 190.8,427.5 191.0,428.5 191.2,425.7 191.5,428.1 191.8,425.8 192.0,426.1 192.2,426.6 192.5,427.1 192.8,427.4 193.0,427.6 193.2,427.5 193.5,426.8 193.8,429.8 194.0,427.6 194.2,427.9 194.5,429.3 194.8,428.2 195.0,427.8 195.2,427.5 195.5,429.1 195.8,426.1 196.0,426.1 196.2,426.3 196.5,424.3 196.8,423.0 197.0,423.7 197.2,425.3 197.5,426.9 197.8,427.8 198.0,426.0 198.2,427.5 198.5,426.6 198.8,426.1 199.0,426.9 199.2,427.1 199.5,426.8 199.8,426.5 200.0,428.2 200.2,428.4 200.5,427.8 200.8,427.1 201.0,426.1 201.2,426.4 201.5,426.1 201.8,427.4 202.0,428.1 202.2,428.1 202.5,427.2 202.8,426.8 203.0,427.4 203.2,427.3 203.5,427.8 203.8,428.7 204.0,426.5 204.2,429.3 204.5,425.1 204.8,425.4 205.0,425.7 205.2,426.2 205.5,427.0 205.8,429.3 206.0,426.5 206.2,428.3 206.5,426.9 206.8,427.4 207.0,426.2 207.2,429.5 207.5,427.2 207.8,426.6 208.0,429.5 208.2,427.4 208.5,427.6 208.8,426.9 209.0,425.8 209.3,425.0 209.5,426.0 209.8,428.3 210.0,427.6 210.2,427.1 210.5,428.3 210.8,426.3 211.0,428.6 211.2,427.2 211.5,426.4 211.8,427.9 212.0,427.8 212.2,426.9 212.5,427.5 212.8,428.2 213.0,428.6 213.2,426.4 213.5,424.6 213.8,429.3 214.0,427.0 214.2,426.8 214.5,427.7 214.8,426.8 215.0,428.3 215.2,426.0 215.5,427.0 215.8,426.0 216.0,428.8 216.2,427.0 216.5,428.3 216.8,428.6 217.0,426.1 217.2,427.0 217.5,428.0 217.8,427.3 218.0,427.1 218.2,428.1 218.5,428.2 218.8,426.7 219.0,427.1 219.2,427.9 219.5,427.5 219.8,427.4 220.0,426.1 220.2,429.0 220.5,427.0 220.8,427.5 221.0,427.2 221.2,427.3 221.5,427.4 221.8,426.2 222.0,424.5 222.2,417.6 222.5,412.6 222.8,417.6 223.0,424.5 223.2,426.9 223.5,429.1 223.8,426.6 224.0,427.7 224.2,428.3 224.5,427.6 224.8,426.2 225.0,426.2 225.2,428.8 225.5,426.3 225.8,427.2 226.0,426.6 226.2,420.2 226.5,406.5 226.7,400.2 227.0,412.3 227.2,423.6 227.5,426.7 227.8,427.4 228.0,427.3 228.2,425.3 228.5,423.8 228.7,422.8 229.0,424.7 229.2,425.7 229.5,425.3 229.8,427.8 230.0,426.0 230.2,426.2 230.5,427.9 230.8,427.6 231.0,427.9 231.2,426.0 231.5,424.4 231.8,426.3 232.0,427.0 232.2,426.6 232.5,428.2 232.8,427.7 233.0,426.3 233.2,427.9 233.5,427.2 233.8,426.8 234.0,428.4 234.2,425.6 234.5,428.3 234.8,428.4 235.0,425.2 235.2,427.1 235.5,427.1 235.8,426.2 236.0,426.7 236.2,426.5 236.5,427.4 236.8,426.8 237.0,425.2 237.2,428.5 237.5,428.2 237.8,426.5 238.0,428.2 238.2,429.3 238.5,425.8 238.8,426.9 239.0,426.8 239.2,427.9 239.5,427.0 239.8,425.8 240.0,427.3 240.2,424.5 240.5,421.6 240.8,419.6 241.0,420.6 241.2,423.4 241.5,426.3 241.8,426.9 242.0,427.8 242.2,427.3 242.5,430.1 242.8,428.0 243.0,427.7 243.2,427.5 243.5,427.7 243.8,425.7 244.0,427.1 244.2,428.1 244.5,426.1 244.8,427.4 245.0,427.2 245.2,426.8 245.5,429.8 245.8,428.1 246.0,427.7 246.2,426.6 246.5,427.4 246.8,427.0 247.0,427.3 247.2,427.6 247.5,429.9 247.8,428.7 248.0,429.1 248.2,428.7 248.5,430.2 248.8,426.7 249.0,426.1 249.2,427.6 249.5,427.6 249.8,427.4 250.0,426.7 250.2,428.0 250.5,429.1 250.8,427.6 251.0,427.1 251.2,428.6 251.5,427.1 251.8,427.0 252.0,427.7 252.2,425.1 252.5,429.2 252.8,427.3 253.0,427.9 253.2,427.7 253.5,427.8 253.8,426.0 254.0,429.1 254.2,427.9 254.5,427.7 254.8,430.5 255.0,426.1 255.2,428.1 255.5,427.3 255.8,425.9 256.0,429.3 256.2,425.8 256.5,427.5 256.8,427.3 257.0,427.6 257.2,426.4 257.5,428.7 257.8,427.6 258.0,426.1 258.2,426.2 258.5,427.7 258.8,426.2 259.0,427.8 259.2,427.7 259.5,426.8 259.8,425.5 260.0,426.1 260.2,427.7 260.5,426.9 260.8,429.2 261.0,426.9 261.2,427.8 261.5,428.1 261.8,427.5 262.0,427.7 262.2,428.6 262.5,429.2 262.8,432.1 262.9,432.8 263.2,430.2 263.5,428.0 263.8,428.3 264.0,424.4 264.2,426.9 264.5,426.3 264.8,427.4 265.0,427.0 265.2,426.4 265.5,427.1 265.8,428.2 266.0,428.5 266.2,426.9 266.5,428.5 266.8,426.8 267.0,428.0 267.2,426.6 267.5,428.5 267.8,429.7 268.0,427.1 268.2,428.6 268.5,426.0 268.8,426.8 269.0,430.0 269.2,427.1 269.5,426.9 269.8,424.9 270.0,423.9 270.3,423.0 270.5,423.4 270.8,424.7 271.0,427.7 271.2,426.1 271.5,427.6 271.8,425.4 272.0,427.0 272.2,428.6 272.5,427.3 272.8,426.1 273.0,427.9 273.2,428.4 273.5,427.9 273.8,428.4 274.0,426.0 274.2,429.2 274.5,428.1 274.8,425.3 275.0,429.3 275.2,427.0 275.5,427.9 275.8,425.5 276.0,426.8 276.2,425.6 276.5,428.3 276.8,427.2 277.0,426.5 277.2,427.1 277.5,428.6 277.8,426.7 278.0,428.0 278.2,426.3 278.5,425.8 278.8,426.6 279.0,425.6 279.3,424.4 279.5,425.3 279.8,426.3 280.0,427.0 280.2,428.2 280.5,427.9 280.8,427.4 281.0,427.7 281.2,425.3 281.5,426.9 281.8,425.9 282.0,427.1 282.2,428.3 282.5,425.8 282.8,428.4 283.0,426.9 283.2,427.2 283.5,427.0 283.8,428.2 284.0,426.8 284.2,425.4 284.5,427.8 284.8,427.3 285.0,428.1 285.2,428.1 285.5,426.3 285.8,427.7 286.0,427.6 286.2,427.3 286.5,426.3 286.8,421.5 287.1,414.0 287.2,415.9 287.5,422.8 287.8,425.9 288.0,427.3 288.2,426.5 288.5,426.4 288.8,427.1 289.0,427.6 289.2,429.0 289.5,427.3 289.8,428.4 290.0,428.0 290.2,427.5 290.5,424.4 290.8,427.6 291.0,427.5 291.2,426.4 291.5,427.6 291.8,428.9 292.0,426.3 292.2,427.0 292.5,428.4 292.8,425.7 293.0,426.4 293.2,427.1 293.5,422.4 293.8,409.8 294.0,400.8 294.2,409.8 294.5,422.4 294.8,425.8 295.0,427.3 295.2,428.1 295.5,427.9 295.8,425.6 296.0,427.9 296.2,426.7 296.5,427.3 296.8,428.9 297.0,427.3 297.2,426.8 297.5,427.3 297.8,426.1 298.0,423.8 298.3,420.8 298.5,422.4 298.8,425.5 299.0,426.7 299.2,427.7 299.5,425.3 299.8,428.5 300.0,426.2 300.2,427.6 300.5,427.8 300.8,426.7 301.0,427.9 301.2,428.2 301.5,429.4 301.8,427.9 302.0,429.3 302.2,428.0 302.5,427.2 302.8,426.5 303.0,419.4 303.2,407.4 303.4,404.2 303.8,417.2 304.0,425.5 304.2,426.0 304.5,428.8 304.8,427.7 305.0,427.3 305.2,426.8 305.5,428.1 305.8,427.9 306.0,428.2 306.2,427.4 306.5,429.1 306.8,427.3 307.0,428.0 307.2,427.8 307.5,428.6 307.8,426.9 308.0,427.3 308.2,427.4 308.5,426.9 308.8,426.9 309.0,426.4 309.2,428.3 309.5,429.1 309.8,426.6 310.0,428.3 310.2,426.3 310.5,425.9 310.8,424.7 311.0,423.8 311.2,424.8 311.5,425.3 311.8,426.2 312.0,427.7 312.2,427.4 312.5,429.7 312.8,427.4 313.0,427.0 313.2,428.8 313.5,425.0 313.8,425.8 314.0,430.3 314.2,427.0 314.5,427.7 314.8,427.5 315.0,426.8 315.2,427.5 315.5,426.4 315.8,428.6 316.0,428.4 316.2,428.3 316.5,426.8 316.8,425.8 317.0,427.2 317.2,426.6 317.5,428.1 317.8,426.1 318.0,426.8 318.2,427.8 318.5,428.1 318.8,427.8 319.0,426.4 319.2,427.0 319.5,429.7 319.8,428.6 320.0,426.9 320.2,429.6 320.5,427.6 320.8,427.7 321.0,426.9 321.2,429.2 321.5,427.8 321.8,427.6 322.0,426.8 322.2,426.5 322.5,427.6 322.8,426.4 323.1,424.8 323.2,425.1 323.5,426.5 323.8,428.5 324.0,428.5 324.2,427.1 324.5,429.2 324.8,428.2 325.0,428.6 325.2,428.1 325.5,428.7 325.8,427.3 326.0,427.5 326.2,428.8 326.5,428.1 326.8,428.1 327.0,428.9 327.2,428.0 327.5,428.2 327.8,425.6 328.0,427.3 328.2,428.6 328.5,426.9 328.8,427.5 329.0,428.0 329.2,427.7 329.5,428.6 329.8,428.3 330.0,427.6 330.2,428.8 330.5,426.6 330.8,421.4 331.0,409.1 331.2,403.4 331.5,414.3 331.8,424.5 332.0,427.0 332.2,428.0 332.5,428.5 332.8,429.5 333.0,427.7 333.2,427.6 333.5,425.7 333.8,429.1 334.0,428.7 334.2,427.8 334.5,427.1 334.8,425.3 335.0,428.6 335.2,427.1 335.5,429.3 335.8,428.6 336.0,429.1 336.2,427.7 336.5,429.0 336.8,426.5 337.0,429.3 337.2,427.8 337.5,426.7 337.8,427.5 338.0,426.9 338.2,428.1 338.5,427.2 338.8,426.6 339.0,427.5 339.2,427.7 339.5,428.1 339.8,428.6 340.0,429.1 340.2,428.3 340.5,429.5 340.8,425.5 341.0,427.8 341.2,428.8 341.5,426.6 341.8,427.7 342.0,428.1 342.2,426.4 342.5,427.4 342.8,428.5 343.0,427.6 343.2,429.4 343.5,430.2 343.8,427.9 344.0,426.8 344.2,427.9 344.5,427.4 344.8,426.6 345.0,427.6 345.2,427.5 345.5,427.6 345.8,428.7 346.0,428.0 346.2,426.2 346.4,425.7 346.8,427.3 347.0,427.8 347.2,428.2 347.5,427.0 347.8,425.0 348.0,428.8 348.2,427.4 348.5,427.5 348.8,428.0 349.0,427.9 349.2,427.7 349.5,429.5 349.8,428.1 350.0,428.2 350.2,427.1 350.5,427.9 350.8,428.5 351.0,427.9 351.2,428.3 351.5,427.1 351.8,428.4 352.0,427.0 352.2,427.6 352.5,427.3 352.8,428.2 353.0,429.1 353.2,428.3 353.5,427.2 353.8,428.2 354.0,429.0 354.2,428.7 354.5,428.5 354.8,427.0 355.0,427.5 355.2,427.4 355.5,427.6 355.8,428.3 356.0,428.1 356.2,427.7 356.5,428.6 356.8,427.4 357.0,427.7 357.2,428.2 357.5,426.8 357.8,427.2 358.0,426.7 358.2,427.1 358.5,427.9 358.8,428.0 359.0,428.4 359.2,428.4 359.5,427.0 359.8,429.9 360.0,429.4 360.2,426.9 360.5,427.4 360.8,427.6 361.0,428.3 361.2,428.7 361.5,428.1 361.8,425.6 362.0,430.9 362.2,428.8 362.5,426.8 362.8,417.0 363.0,395.5 363.2,385.6 363.5,404.7 363.8,422.4 364.0,427.6 364.2,429.7 364.5,428.0 364.8,427.8 365.0,423.0 365.2,416.0 365.5,411.9 365.8,416.0 366.0,423.0 366.2,426.8 366.5,428.8 366.8,429.1 367.0,429.2 367.2,430.4 367.5,429.6 367.8,430.7 368.0,428.9 368.2,428.3 368.5,428.6 368.8,428.1 369.0,426.9 369.2,428.3 369.5,427.0 369.8,427.9 370.0,427.9 370.2,427.6 370.5,427.1 370.8,428.4 371.0,428.2 371.2,429.7 371.5,429.0 371.8,429.3 372.0,427.8 372.2,428.0 372.5,427.0 372.8,427.5 373.0,429.1 373.2,428.2 373.5,428.3 373.8,427.8 374.0,430.1 374.2,428.4 374.5,429.7 374.8,428.5 375.0,429.5 375.2,427.5 375.5,427.1 375.8,429.8 376.0,428.2 376.2,428.9 376.5,429.6 376.8,429.4 377.0,428.9 377.2,427.4 377.5,427.9 377.8,428.7 378.0,429.2 378.2,428.1 378.5,425.7 378.7,424.8 379.0,426.6 379.2,429.1 379.5,427.8 379.8,428.2 380.0,429.8 380.2,430.6 380.5,429.3 380.8,428.9 381.0,427.8 381.2,428.8 381.5,428.0 381.8,429.1 382.0,429.8 382.2,429.5 382.5,430.5 382.8,427.9 383.0,427.6 383.2,430.6 383.5,430.2 383.8,428.0 384.0,429.2 384.2,427.9 384.5,429.1 384.8,429.5 385.0,430.3 385.2,428.0 385.5,427.7 385.8,429.9 386.0,428.8 386.2,430.9 386.5,427.9 386.8,428.5 387.0,426.1 387.2,430.6 387.5,430.9 387.8,429.8 388.0,429.0 388.2,427.0 388.5,427.8 388.8,428.8 389.0,431.7 389.2,430.5 389.5,428.7 389.8,430.0 390.0,430.1 390.2,430.1 390.5,428.4 390.8,429.0 391.0,430.7 391.2,430.4 391.5,429.2 391.8,432.5 392.0,429.9 392.2,429.1 392.5,430.7 392.8,430.6 393.0,429.5 393.2,431.9 393.5,431.0 393.8,429.7 394.0,430.6 394.2,430.6 394.5,429.4 394.8,430.7 395.0,429.1 395.2,429.5 395.5,430.6 395.8,428.3 396.0,429.4 396.2,428.7 396.5,430.8 396.8,429.2 397.0,432.2 397.2,431.8 397.5,429.1 397.8,430.1 398.0,429.3 398.2,428.9 398.6,427.6 398.8,428.4 399.0,431.1 399.2,432.1 399.5,428.5 399.8,429.5 400.0,429.9 400.2,429.7 400.5,430.3 400.8,431.0 401.0,429.6 401.2,429.4 401.5,433.2 401.8,431.1 402.0,433.0 402.2,429.5 402.5,432.0 402.8,432.4 403.0,432.0 403.2,429.4 403.5,431.0 403.8,429.4 404.0,428.9 404.2,430.4 404.5,431.0 404.8,430.1 405.0,430.3 405.2,431.2 405.5,429.6 405.8,431.0 406.0,431.5 406.2,431.3 406.5,431.2 406.8,429.3 407.0,430.2 407.2,430.0 407.5,431.5 407.8,428.4 408.0,430.8 408.2,428.6 408.5,431.5 408.8,430.0 409.0,430.7 409.2,431.9 409.5,432.9 409.8,429.5 410.0,430.9 410.2,428.3 410.5,430.5 410.8,429.9 411.0,431.7 411.2,430.7 411.5,431.0 411.8,429.4 412.0,430.4 412.2,429.4 412.5,430.9 412.8,428.9 413.0,431.3 413.2,432.4 413.5,434.3 413.8,432.9 414.0,432.7 414.2,432.1 414.5,433.1 414.8,431.0 415.0,431.6 415.2,428.6 415.5,430.4 415.8,432.6 416.0,428.9 416.2,431.6 416.5,431.1 416.8,430.7 417.0,431.6 417.2,431.2 417.5,429.8 417.8,431.1 418.0,428.9 418.2,433.2 418.5,431.3 418.8,432.5 419.0,430.1 419.2,433.7 419.5,432.7 419.8,431.8 420.0,431.7 420.2,431.9 420.5,430.5 420.8,431.2 421.0,431.2 421.2,432.0 421.5,433.5 421.8,433.0 422.0,431.9 422.2,432.4 422.5,431.2 422.8,430.9 423.0,429.5 423.2,429.9 423.5,430.0 423.8,431.5 424.0,431.4 424.2,432.2 424.5,433.2 424.8,432.6 425.0,431.5 425.2,431.1 425.5,431.4 425.8,432.6 426.0,430.6 426.2,429.8 426.5,431.5 426.8,433.2 427.0,433.4 427.2,432.6 427.5,429.3 427.8,431.7 428.0,432.8 428.2,433.4 428.5,434.4 428.8,430.7 429.0,432.4 429.2,429.9 429.5,431.7 429.8,431.5 430.0,433.1 430.2,432.2 430.5,429.7 430.8,431.9 431.0,432.5 431.2,434.0 431.5,431.1 431.8,430.9 432.0,431.3 432.2,433.4 432.5,431.7 432.8,432.2 433.0,432.7 433.2,431.0 433.5,433.6 433.8,429.9 434.0,434.6 434.2,431.2 434.5,430.9 434.8,431.1 435.0,430.6 435.2,431.0 435.5,431.1 435.8,430.6 436.0,431.9 436.2,432.6 436.5,431.4 436.8,432.4 437.0,431.1 437.2,432.5 437.5,431.8 437.8,430.7 438.0,432.3 438.2,432.0 438.5,431.3 438.8,432.2 439.0,433.0 439.2,430.6 439.5,431.6 439.8,433.1 440.0,432.3 440.2,433.3 440.5,435.5 440.8,430.6 441.0,432.8 441.2,431.8 441.5,434.2 441.8,433.1 442.0,430.4 442.2,433.8 442.5,432.3 442.8,431.9 443.0,432.4 443.2,432.6 443.5,431.2 443.8,431.8 444.0,434.2 444.2,431.0 444.5,431.5 444.8,433.4 445.0,431.1 445.2,432.1 445.5,432.8 445.8,431.2 446.0,432.0 446.2,431.2 446.5,431.9 446.8,431.3 447.0,428.6 447.2,427.5 447.5,429.8 447.8,432.6 448.0,430.9 448.2,432.6 448.5,434.6 448.8,432.1 449.0,432.1 449.2,432.5 449.5,431.5 449.8,433.3 450.0,432.5 450.2,432.3 450.5,433.5 450.8,434.2 451.0,430.6 451.2,431.8 451.5,432.2 451.8,430.6 452.0,433.5 452.2,435.5 452.5,433.7 452.8,434.3 453.0,429.9 453.2,432.0 453.5,430.7 453.8,433.7 454.0,432.4 454.2,432.4 454.5,433.3 454.8,433.7 455.0,434.9 455.2,434.5 455.5,433.9 455.8,430.4 456.0,434.4 456.2,432.8 456.5,430.5 456.8,432.9 457.0,432.3 457.2,432.6 457.5,434.0 457.8,430.8 458.0,433.6 458.2,434.4 458.5,431.1 458.8,434.7 459.0,431.8 459.2,431.7 459.5,434.1 459.8,432.7 460.0,430.2 460.2,431.8 460.5,433.7 460.8,432.0 461.0,432.1 461.2,432.8 461.5,432.8 461.8,431.8 462.0,431.5 462.2,433.4 462.5,434.6 462.8,429.2 463.0,433.4 463.2,434.2 463.5,431.6 463.8,434.9 464.0,430.7 464.2,434.2 464.5,435.2 464.8,435.1 465.0,429.1 465.2,433.0 465.5,431.5 465.8,433.5 466.0,434.9 466.2,433.5 466.5,435.2 466.8,430.5 467.0,431.7 467.2,432.2 467.5,433.9 467.8,434.7 468.0,431.8 468.2,431.6 468.5,434.2 468.8,431.1 469.0,433.8 469.2,431.8 469.5,432.9 469.8,436.0 470.0,432.6 470.2,433.1 470.5,431.8 470.8,433.8 471.0,435.2 471.2,433.9 471.5,431.1 471.8,433.6 472.0,435.3 472.2,431.7 472.5,432.8 472.8,431.7 473.0,432.2 473.2,431.6 473.5,431.1 473.8,433.8 474.0,433.0 474.2,429.9 474.5,431.6 474.8,432.0 475.0,431.5 475.2,433.3 475.5,432.8 475.8,433.6 476.0,431.1 476.2,432.0 476.5,432.5 476.8,432.6 477.0,432.6 477.2,432.0 477.5,432.9 477.8,435.5 478.0,432.0 478.2,430.7 478.5,433.5 478.8,431.8 479.0,434.3 479.2,434.7 479.5,435.6 479.8,433.4 480.0,430.7 480.2,435.5 480.5,434.5 480.8,435.1 481.0,433.3 481.2,432.7 481.5,433.2 481.8,430.5 482.0,434.6 482.2,432.3 482.5,432.3 482.8,433.7 483.0,431.9 483.2,434.4 483.5,432.3 483.8,436.7 484.0,435.1 484.2,434.2 484.5,433.7 484.8,433.3 485.0,432.5 485.2,430.4 485.5,432.4 485.8,432.1 486.0,432.5 486.2,433.4 486.5,430.5 486.8,431.4 487.0,432.3 487.2,432.6 487.5,434.6 487.8,437.2 488.0,433.1 488.2,434.3 488.5,433.3 488.8,433.7 489.0,435.9 489.2,433.6 489.5,434.2 489.8,433.4 490.0,432.4 490.2,434.9 490.5,433.1 490.8,435.5 491.0,431.7 491.2,434.0 491.5,435.9 491.8,432.4 492.0,433.9 492.2,435.6 492.5,434.0 492.8,432.2 493.0,432.9 493.2,433.9 493.5,432.5 493.8,432.8 494.0,433.6 494.2,431.5 494.5,435.9 494.8,432.5 495.0,433.4 495.2,433.6 495.5,435.5 495.8,432.9 496.0,436.5 496.2,436.2 496.5,434.5 496.8,431.4 497.0,431.5 497.2,433.1 497.5,433.9 497.8,434.4 498.0,435.3 498.2,434.2 498.5,433.6 498.8,434.1 499.0,430.4 499.2,435.2 499.5,431.2 499.8,430.6 500.0,432.4 500.2,432.8 500.5,431.7 500.8,433.2 501.0,433.6 501.2,434.5 501.5,434.1 501.8,432.7 502.0,433.7" stroke="#000" stroke-width="1.4"/>
<polyline points="12.0,489.0 12.2,489.2 12.5,488.6 12.8,489.1 13.0,489.5 13.2,489.1 13.5,489.8 13.8,488.2 14.0,488.7 14.2,488.0 14.5,487.5 14.8,486.9 15.0,485.5 15.2,483.4 15.5,481.2 15.8,479.2 16.1,478.0 16.2,478.2 16.5,479.5 16.8,481.6 17.0,483.8 17.2,485.7 17.5,487.0 17.8,486.9 18.0,488.4 18.2,488.2 18.5,487.6 18.8,487.3 19.0,486.5 19.2,484.6 19.5,481.6 19.8,478.3 20.0,475.8 20.2,475.1 20.5,476.6 20.8,479.6 21.0,482.8 21.2,485.4 21.5,487.5 21.8,487.1 22.0,487.5 22.2,488.0 22.5,487.4 22.8,487.3 23.0,487.5 23.2,487.2 23.5,486.7 23.8,486.3 24.0,486.6 24.2,486.5 24.5,486.5 24.8,487.4 25.0,486.8 25.2,487.6 25.5,488.1 25.8,487.9 26.0,487.6 26.2,488.2 26.5,487.7 26.8,487.6 27.0,487.3 27.2,488.8 27.5,487.6 27.8,488.7 28.0,488.2 28.2,487.7 28.5,488.3 28.8,488.1 29.0,487.9 29.2,486.9 29.5,487.9 29.8,488.3 30.0,487.9 30.2,487.6 30.5,486.5 30.8,484.3 31.0,482.5 31.3,481.4 31.5,481.9 31.8,483.6 32.0,485.5 32.2,486.8 32.5,488.4 32.8,487.4 33.0,486.4 33.2,488.6 33.5,486.9 33.8,486.9 34.0,487.6 34.2,488.2 34.5,487.4 34.8,487.9 35.0,486.5 35.2,488.9 35.5,487.7 35.8,487.8 36.0,488.1 36.2,487.8 36.5,487.8 36.8,487.1 37.0,487.6 37.2,488.0 37.5,488.4 37.8,487.6 38.0,487.8 38.2,487.9 38.5,488.1 38.8,487.8 39.0,487.5 39.2,487.3 39.5,488.4 39.8,487.9 40.0,487.7 40.2,490.0 40.5,488.2 40.8,488.1 41.0,487.5 41.2,486.5 41.5,487.0 41.8,485.8 42.0,485.3 42.2,485.2 42.5,485.6 42.8,486.2 43.0,486.8 43.2,488.4 43.5,487.8 43.8,486.9 44.0,488.1 44.2,487.7 44.5,487.6 44.8,488.1 45.0,487.8 45.2,488.9 45.5,487.7 45.8,487.8 46.0,488.4 46.2,487.2 46.5,488.3 46.8,487.5 47.0,488.4 47.2,487.0 47.5,487.8 47.8,486.5 48.0,487.2 48.2,487.4 48.5,487.3 48.8,486.8 49.0,484.4 49.2,482.1 49.5,479.8 49.8,478.6 50.0,479.2 50.2,481.1 50.5,483.6 50.8,485.3 51.0,486.3 51.2,486.5 51.5,487.3 51.8,489.0 52.0,487.7 52.2,487.4 52.5,489.0 52.8,487.0 53.0,487.1 53.2,486.9 53.5,487.1 53.8,486.5 54.0,487.0 54.2,485.9 54.5,485.7 54.8,485.1 55.0,484.5 55.2,483.9 55.5,483.4 55.8,483.0 56.0,482.6 56.2,482.4 56.5,482.3 56.8,482.4 57.0,482.6 57.2,483.0 57.5,483.4 57.8,483.9 58.0,484.3 58.2,480.4 58.5,475.5 58.8,471.6 58.9,470.9 59.2,474.6 59.5,479.5 59.8,483.6 60.0,485.6 60.2,487.1 60.5,487.5 60.8,487.3 61.0,486.5 61.2,485.9 61.5,484.2 61.8,481.0 62.0,477.6 62.3,475.6 62.5,476.5 62.8,479.6 63.0,483.1 63.2,485.5 63.5,486.9 63.8,487.0 64.0,486.7 64.2,487.2 64.5,487.5 64.8,486.8 65.0,487.5 65.2,488.1 65.5,487.7 65.8,487.3 66.0,488.1 66.2,488.0 66.5,488.0 66.8,486.8 67.0,486.2 67.2,487.9 67.5,487.4 67.8,487.1 68.0,487.7 68.2,487.1 68.5,486.9 68.8,488.6 69.0,486.3 69.2,487.9 69.5,488.0 69.8,488.5 70.0,487.5 70.2,487.7 70.5,486.7 70.8,487.4 71.0,485.9 71.2,487.0 71.5,487.3 71.8,487.3 72.0,487.0 72.2,488.1 72.5,486.3 72.8,487.4 73.0,487.1 73.2,487.4 73.5,487.4 73.8,488.6 74.0,486.6 74.2,488.2 74.5,488.3 74.8,487.3 75.0,486.9 75.2,486.5 75.5,486.8 75.8,488.7 76.0,485.9 76.2,487.6 76.5,486.9 76.8,488.6 77.0,487.5 77.2,486.4 77.5,487.0 77.8,487.5 78.0,487.4 78.2,486.7 78.5,487.0 78.8,486.5 79.0,485.6 79.2,482.9 79.5,479.7 79.8,477.7 80.0,478.6 80.2,481.6 80.5,484.5 80.8,486.2 81.0,486.9 81.2,487.1 81.5,486.0 81.8,488.2 82.0,487.7 82.2,488.2 82.5,487.0 82.8,487.8 83.0,487.4 83.2,487.3 83.5,488.5 83.8,486.9 84.0,487.7 84.2,486.1 84.5,487.7 84.8,487.2 85.0,486.6 85.2,486.9 85.5,485.9 85.8,486.6 86.0,487.4 86.2,485.5 86.5,487.8 86.8,487.2 87.0,485.3 87.2,483.9 87.5,483.1 87.8,483.9 88.0,485.3 88.2,487.8 88.5,486.4 88.8,487.8 89.0,488.1 89.2,486.6 89.5,487.1 89.8,487.7 90.0,486.8 90.2,488.1 90.5,488.7 90.8,487.2 91.0,486.7 91.2,487.7 91.5,487.5 91.8,486.8 92.0,487.2 92.2,487.3 92.5,487.6 92.8,488.0 93.0,486.9 93.2,486.3 93.5,485.9 93.8,485.4 94.0,478.4 94.2,463.9 94.5,446.8 94.7,441.0 95.0,453.1 95.2,470.6 95.5,481.9 95.8,485.9 96.0,487.5 96.2,487.5 96.5,487.5 96.8,488.8 97.0,488.2 97.2,486.5 97.5,487.5 97.8,487.6 98.0,486.7 98.2,488.8 98.5,487.9 98.8,488.3 99.0,486.9 99.2,486.4 99.5,487.7 99.8,487.1 100.0,486.8 100.2,487.2 100.5,487.4 100.8,487.3 101.0,487.0 101.2,487.3 101.5,487.9 101.8,485.4 102.0,483.6 102.2,483.1 102.5,484.2 102.8,485.2 103.0,485.9 103.2,485.8 103.5,488.0 103.8,486.4 104.0,486.2 104.2,486.8 104.5,487.0 104.8,486.2 105.0,485.9 105.2,484.0 105.5,480.1 105.8,475.6 106.0,473.6 106.2,475.6 106.5,480.1 106.8,484.0 107.0,485.6 107.2,487.6 107.5,487.5 107.8,486.7 108.0,486.6 108.2,487.7 108.5,488.6 108.8,487.4 109.0,488.9 109.2,487.4 109.5,487.4 109.8,487.5 110.0,487.9 110.2,486.1 110.5,487.3 110.8,488.0 111.0,486.1 111.2,487.3 111.5,487.7 111.8,488.4 112.0,488.2 112.2,487.1 112.5,488.6 112.8,486.4 113.0,486.2 113.2,488.1 113.5,487.6 113.8,486.4 114.0,487.9 114.2,487.8 114.5,487.7 114.8,486.8 115.0,486.3 115.2,486.0 115.5,487.0 115.8,487.0 116.0,486.8 116.2,486.8 116.5,487.8 116.8,486.4 117.0,486.6 117.2,488.5 117.5,486.7 117.8,486.7 118.0,487.9 118.2,485.9 118.5,488.3 118.8,486.2 119.0,486.6 119.2,486.2 119.5,486.4 119.8,486.5 120.0,487.2 120.2,485.9 120.5,485.0 120.8,483.3 121.0,482.1 121.2,481.8 121.5,482.5 121.8,483.9 122.0,485.3 122.2,486.4 122.5,487.1 122.8,485.6 123.0,487.0 123.2,486.8 123.5,488.4 123.8,486.9 124.0,487.1 124.2,487.1 124.5,487.7 124.8,486.3 125.0,487.0 125.2,486.9 125.5,486.4 125.8,484.7 126.0,481.0 126.2,475.8 126.6,471.6 126.8,472.5 127.0,476.8 127.2,481.9 127.5,485.1 127.8,487.1 128.0,486.9 128.2,487.0 128.5,485.5 128.8,488.1 129.0,487.1 129.2,485.7 129.5,486.8 129.8,488.1 130.0,487.4 130.2,486.0 130.5,486.7 130.8,487.3 131.0,488.5 131.2,487.2 131.5,487.6 131.8,486.8 132.0,487.1 132.2,486.4 132.5,486.1 132.8,486.1 133.0,486.7 133.2,487.9 133.5,486.8 133.8,486.7 134.0,484.9 134.2,483.4 134.4,483.1 134.8,484.6 135.0,486.4 135.2,487.5 135.5,488.7 135.8,488.1 136.0,487.2 136.2,487.3 136.5,487.4 136.8,488.6 137.0,486.3 137.2,485.8 137.5,486.7 137.8,487.1 138.0,486.6 138.2,487.7 138.5,487.5 138.8,487.0 139.0,487.1 139.2,488.4 139.5,488.5 139.8,488.3 140.0,486.8 140.2,487.9 140.5,486.2 140.8,485.7 141.0,488.2 141.2,487.7 141.5,487.5 141.8,488.0 142.0,488.2 142.2,487.2 142.5,487.2 142.8,487.5 143.0,487.6 143.2,487.2 143.5,486.1 143.8,488.8 144.0,486.5 144.2,486.6 144.5,487.5 144.8,487.0 145.0,487.4 145.2,488.7 145.5,488.0 145.8,486.7 146.0,487.3 146.2,487.0 146.5,487.9 146.8,486.4 147.0,486.3 147.2,485.8 147.5,487.4 147.8,487.3 148.0,487.5 148.2,487.6 148.5,486.2 148.8,486.8 149.0,486.3 149.2,487.9 149.5,487.6 149.8,486.0 150.0,487.4 150.2,487.1 150.5,487.1 150.8,487.5 151.0,486.6 151.2,486.8 151.5,486.5 151.8,486.5 152.0,486.3 152.2,487.8 152.5,487.4 152.8,486.8 153.0,485.9 153.2,488.6 153.5,487.0 153.8,487.2 154.0,487.5 154.2,488.2 154.5,486.8 154.8,485.4 155.0,486.8 155.2,487.0 155.5,486.6 155.8,488.1 156.0,486.7 156.2,487.3 156.5,486.5 156.8,487.6 157.0,486.5 157.2,487.6 157.5,487.1 157.8,487.1 158.0,487.3 158.2,485.9 158.5,486.7 158.8,487.2 159.0,486.8 159.2,487.9 159.5,487.7 159.8,486.5 160.0,487.9 160.2,486.9 160.5,487.4 160.8,487.9 161.0,486.2 161.2,486.5 161.5,487.0 161.8,486.9 162.0,485.8 162.2,487.5 162.5,487.2 162.8,487.2 163.0,487.3 163.2,487.5 163.5,486.4 163.8,486.7 164.0,485.3 164.2,484.0 164.5,483.3 164.8,484.0 165.0,484.6 165.2,486.1 165.5,487.4 165.8,486.8 166.0,486.6 166.2,487.8 166.5,486.4 166.8,486.8 167.0,487.3 167.2,486.7 167.5,486.7 167.8,487.0 168.0,486.3 168.2,480.3 168.5,464.5 168.8,444.6 168.9,440.0 169.2,460.2 169.5,478.0 169.8,485.5 170.0,487.1 170.2,486.8 170.5,488.2 170.8,486.6 171.0,486.3 171.2,486.5 171.5,487.0 171.8,487.3 172.0,485.6 172.2,487.3 172.5,487.2 172.8,487.8 173.0,486.8 173.2,488.1 173.5,488.5 173.8,486.7 174.0,486.9 174.2,487.8 174.5,487.9 174.8,487.1 175.0,487.9 175.2,486.0 175.5,487.7 175.8,487.4 176.0,487.7 176.2,487.4 176.5,487.6 176.8,486.7 177.0,488.1 177.2,485.6 177.5,487.3 177.8,486.6 178.0,488.5 178.2,486.3 178.5,487.2 178.8,487.1 179.0,487.7 179.2,487.1 179.5,486.3 179.8,487.0 180.0,487.9 180.2,487.6 180.5,486.6 180.8,486.2 181.0,486.2 181.2,487.0 181.5,487.0 181.8,486.8 182.0,486.7 182.2,487.2 182.5,488.0 182.8,487.8 183.0,486.8 183.2,487.6 183.5,486.9 183.8,488.0 184.0,487.8 184.2,487.8 184.5,488.7 184.8,487.8 185.0,487.7 185.2,488.1 185.5,486.3 185.8,486.9 186.0,486.8 186.2,487.7 186.5,487.1 186.8,486.2 187.0,486.5 187.2,487.0 187.5,486.8 187.8,486.8 188.0,486.0 188.2,487.2 188.5,486.2 188.8,486.8 189.0,486.7 189.2,486.9 189.5,488.1 189.8,486.8 190.0,486.8 190.2,485.3 190.5,486.5 190.8,487.3 191.0,486.9 191.2,487.7 191.5,486.9 191.8,487.7 192.0,487.3 192.2,487.9 192.5,486.9 192.8,487.8 193.0,486.8 193.2,486.5 193.5,487.9 193.8,486.1 194.0,486.4 194.2,488.3 194.5,487.2 194.8,487.4 195.0,487.3 195.2,487.1 195.5,488.5 195.8,487.1 196.0,488.1 196.2,487.1 196.5,486.6 196.8,486.9 197.0,487.1 197.2,489.0 197.5,486.7 197.8,487.4 198.0,486.0 198.2,487.5 198.5,487.0 198.8,487.4 199.0,487.2 199.2,486.8 199.5,487.2 199.8,487.1 200.0,487.9 200.2,487.1 200.5,487.0 200.8,486.2 201.0,487.8 201.2,487.0 201.5,486.5 201.8,488.0 202.0,487.8 202.2,487.1 202.5,487.2 202.8,486.2 203.0,485.4 203.2,487.2 203.5,486.0 203.8,487.6 204.0,486.9 204.2,487.3 204.5,486.7 204.8,487.4 205.0,487.7 205.2,487.2 205.5,487.7 205.8,487.7 206.0,487.0 206.2,485.9 206.5,487.6 206.8,486.7 207.0,486.4 207.2,485.8 207.5,485.8 207.8,488.1 208.0,488.4 208.2,488.1 208.5,488.6 208.8,485.7 209.0,487.7 209.2,486.1 209.5,486.1 209.8,487.6 210.0,487.8 210.2,486.5 210.5,485.9 210.8,486.0 211.0,487.0 211.2,487.8 211.5,488.6 211.8,487.5 212.0,486.4 212.2,486.3 212.5,487.2 212.8,487.6 213.0,485.6 213.2,487.3 213.5,486.7 213.8,487.7 214.0,485.9 214.2,487.8 214.5,488.2 214.8,488.2 215.0,488.3 215.2,487.2 215.5,487.2 215.8,486.3 216.0,487.1 216.2,486.5 216.5,487.6 216.8,487.7 217.0,487.0 217.2,488.3 217.5,486.1 217.8,486.7 218.0,488.4 218.2,486.9 218.5,487.6 218.8,485.3 219.0,488.2 219.2,486.6 219.5,486.6 219.8,487.9 220.0,487.2 220.2,485.9 220.5,488.1 220.8,486.4 221.0,486.9 221.2,486.7 221.5,486.8 221.8,486.8 222.0,486.9 222.2,486.8 222.5,489.0 222.8,487.3 223.0,487.6 223.2,486.7 223.5,488.4 223.8,487.5 224.0,487.2 224.2,486.7 224.5,487.7 224.8,485.9 225.0,486.6 225.2,486.9 225.5,487.4 225.8,487.1 226.0,485.7 226.2,485.9 226.5,484.3 226.8,483.0 226.9,482.8 227.2,484.0 227.5,485.3 227.8,486.3 228.0,487.4 228.2,487.1 228.5,487.3 228.8,486.7 229.0,488.0 229.2,487.2 229.5,486.6 229.8,487.9 230.0,486.1 230.2,486.6 230.5,487.7 230.8,486.8 231.0,486.9 231.2,486.9 231.5,487.2 231.8,487.5 232.0,487.6 232.2,486.7 232.5,486.8 232.8,485.7 233.0,486.8 233.2,487.5 233.5,487.2 233.8,488.0 234.0,487.0 234.2,487.4 234.5,487.8 234.8,486.3 235.0,488.2 235.2,486.1 235.5,487.0 235.8,485.8 236.0,486.9 236.2,486.4 236.5,487.9 236.8,485.7 237.0,487.5 237.2,487.4 237.5,487.6 237.8,487.9 238.0,487.8 238.2,486.5 238.5,487.6 238.8,486.6 239.0,486.7 239.2,487.0 239.5,486.8 239.8,486.7 240.0,487.9 240.2,487.2 240.5,485.8 240.8,486.6 241.0,486.8 241.2,488.8 241.5,487.3 241.8,486.8 242.0,487.5 242.2,485.5 242.5,488.3 242.8,486.9 243.0,486.5 243.2,487.8 243.5,486.6 243.8,486.4 244.0,487.8 244.2,488.6 244.5,486.9 244.8,487.1 245.0,487.1 245.2,487.5 245.5,486.9 245.8,487.3 246.0,486.6 246.2,487.1 246.5,487.8 246.8,486.1 247.0,487.7 247.2,488.4 247.5,486.7 247.8,486.9 248.0,487.3 248.2,487.2 248.5,486.4 248.8,487.8 249.0,487.6 249.2,487.9 249.5,487.7 249.8,486.7 250.0,487.1 250.2,486.7 250.5,489.1 250.8,486.9 251.0,487.8 251.2,488.3 251.5,487.1 251.8,487.4 252.0,487.5 252.2,488.4 252.5,486.3 252.8,487.4 253.0,487.5 253.2,487.5 253.5,486.6 253.8,487.9 254.0,487.6 254.2,486.5 254.5,486.4 254.8,488.7 255.0,486.7 255.2,486.0 255.5,487.5 255.8,486.4 256.0,487.2 256.2,487.6 256.5,486.5 256.8,486.2 257.0,488.6 257.2,486.2 257.5,486.3 257.8,487.2 258.0,487.5 258.2,487.1 258.5,486.5 258.8,487.9 259.0,486.4 259.2,486.6 259.5,487.7 259.8,488.0 260.0,487.6 260.2,487.9 260.5,487.5 260.8,487.8 261.0,486.7 261.2,486.7 261.5,487.6 261.8,488.0 262.0,487.4 262.2,488.7 262.5,490.8 262.7,491.5 263.0,490.0 263.2,488.2 263.5,487.3 263.8,487.0 264.0,487.6 264.2,486.9 264.5,487.3 264.8,487.1 265.0,486.6 265.2,487.3 265.5,487.4 265.8,485.9 266.0,487.4 266.2,487.4 266.5,487.1 266.8,486.4 267.0,486.7 267.2,487.7 267.5,486.6 267.8,488.0 268.0,486.9 268.2,487.5 268.5,485.0 268.8,487.6 269.0,487.4 269.2,486.0 269.5,488.0 269.8,486.9 270.0,486.4 270.2,488.3 270.5,488.3 270.8,488.0 271.0,487.9 271.2,488.1 271.5,485.9 271.8,487.1 272.0,488.3 272.2,487.7 272.5,487.3 272.8,487.1 273.0,487.0 273.2,486.7 273.5,487.2 273.8,485.1 274.0,488.0 274.2,487.3 274.5,485.1 274.8,487.3 275.0,487.4 275.2,487.2 275.5,487.8 275.8,487.8 276.0,487.7 276.2,486.0 276.5,485.6 276.8,486.7 277.0,487.9 277.2,485.8 277.5,486.9 277.8,486.8 278.0,487.1 278.2,486.0 278.5,487.7 278.8,487.0 279.0,488.0 279.2,487.4 279.5,487.2 279.8,488.0 280.0,488.3 280.2,487.7 280.5,486.7 280.8,487.5 281.0,488.1 281.2,487.9 281.5,488.5 281.8,488.2 282.0,487.0 282.2,488.9 282.5,487.8 282.8,487.8 283.0,487.4 283.2,486.3 283.5,485.7 283.8,487.8 284.0,488.1 284.2,488.6 284.5,486.6 284.8,487.2 285.0,486.9 285.2,487.8 285.5,486.7 285.8,486.6 286.0,486.1 286.2,487.1 286.5,488.0 286.8,486.3 287.0,486.9 287.2,488.4 287.5,486.7 287.8,485.7 288.0,486.5 288.2,487.9 288.5,487.3 288.8,486.6 289.0,486.8 289.2,488.2 289.5,486.2 289.8,488.4 290.0,487.0 290.2,487.7 290.5,486.5 290.8,486.6 291.0,489.2 291.2,487.2 291.5,486.5 291.8,487.7 292.0,486.7 292.2,486.5 292.5,486.6 292.8,486.9 293.0,488.3 293.2,486.0 293.5,487.6 293.8,486.0 294.0,487.8 294.2,486.9 294.5,487.8 294.8,487.1 295.0,488.0 295.2,487.8 295.5,487.6 295.8,487.8 296.0,486.9 296.2,487.0 296.5,486.7 296.8,487.7 297.0,487.6 297.2,487.2 297.5,486.4 297.8,487.2 298.0,487.7 298.2,487.9 298.5,486.8 298.8,487.9 299.0,486.3 299.2,486.9 299.5,486.5 299.8,487.5 300.0,486.6 300.2,486.7 300.5,488.1 300.8,488.1 301.0,486.0 301.2,488.2 301.5,488.0 301.8,488.0 302.0,487.0 302.2,488.4 302.5,487.8 302.8,486.3 303.0,485.6 303.2,486.5 303.5,487.7 303.8,489.9 304.0,486.3 304.2,487.7 304.5,487.5 304.8,487.5 305.0,487.9 305.2,488.2 305.5,487.4 305.8,488.8 306.0,488.0 306.2,488.3 306.5,488.3 306.8,486.6 307.0,488.7 307.2,486.6 307.5,487.5 307.8,487.2 308.0,486.7 308.2,487.3 308.5,486.1 308.8,487.8 309.0,487.3 309.2,486.8 309.5,487.5 309.8,487.6 310.0,487.3 310.2,485.9 310.5,487.7 310.8,487.6 311.0,489.0 311.2,489.2 311.5,488.3 311.8,487.8 312.0,487.7 312.2,487.0 312.5,487.1 312.8,486.7 313.0,486.8 313.2,486.7 313.5,488.4 313.8,488.8 314.0,485.1 314.2,487.4 314.5,485.7 314.8,486.2 315.0,487.2 315.2,487.1 315.5,489.9 315.8,487.5 316.0,486.7 316.2,486.1 316.5,487.8 316.8,486.7 317.0,487.1 317.2,486.3 317.5,488.3 317.8,487.8 318.0,488.3 318.2,486.9 318.5,487.5 318.8,487.1 319.0,486.6 319.2,487.9 319.5,485.9 319.8,486.9 320.0,486.3 320.2,487.5 320.5,486.2 320.8,487.3 321.0,486.7 321.2,487.0 321.5,487.0 321.8,489.0 322.0,486.6 322.2,488.4 322.5,487.1 322.8,489.8 323.0,487.6 323.2,488.3 323.5,486.3 323.8,488.7 324.0,487.3 324.2,486.8 324.5,487.5 324.8,488.8 325.0,486.9 325.2,487.6 325.5,488.4 325.8,488.3 326.0,486.6 326.2,486.2 326.5,488.3 326.8,487.9 327.0,488.1 327.2,488.3 327.5,487.5 327.8,488.0 328.0,487.0 328.2,487.3 328.5,487.6 328.8,487.0 329.0,487.3 329.2,488.8 329.5,487.4 329.8,488.1 330.0,487.7 330.2,486.4 330.5,488.1 330.8,485.9 331.0,487.8 331.2,487.4 331.5,486.7 331.8,488.0 332.0,487.1 332.2,489.1 332.5,486.0 332.8,488.6 333.0,488.3 333.2,487.9 333.5,486.5 333.8,486.4 334.0,485.7 334.2,487.7 334.5,487.2 334.8,488.2 335.0,487.7 335.2,488.0 335.5,486.1 335.8,487.6 336.0,487.8 336.2,488.4 336.5,485.3 336.8,488.5 337.0,486.0 337.2,487.6 337.5,487.7 337.8,489.3 338.0,488.0 338.2,487.6 338.5,486.8 338.8,486.7 339.0,486.3 339.2,487.3 339.5,486.8 339.8,488.5 340.0,486.6 340.2,488.2 340.5,487.3 340.8,486.8 341.0,487.6 341.2,485.9 341.5,487.8 341.8,487.5 342.0,487.1 342.2,487.7 342.5,488.0 342.8,488.3 343.0,487.6 343.2,487.1 343.5,488.0 343.8,486.0 344.0,488.9 344.2,487.2 344.5,487.9 344.8,488.8 345.0,486.9 345.2,487.2 345.5,487.7 345.8,486.8 346.0,488.5 346.2,486.1 346.5,487.2 346.8,487.8 347.0,487.7 347.2,487.1 347.5,488.8 347.8,488.7 348.0,487.6 348.2,488.2 348.5,486.5 348.8,488.4 349.0,487.8 349.2,488.2 349.5,488.1 349.8,487.8 350.0,487.5 350.2,486.3 350.5,486.1 350.8,486.5 351.0,488.2 351.2,487.7 351.5,487.0 351.8,487.0 352.0,488.2 352.2,487.5 352.5,488.9 352.8,487.2 353.0,486.7 353.2,485.7 353.5,486.9 353.8,487.9 354.0,486.3 354.2,488.1 354.5,488.1 354.8,486.5 355.0,487.9 355.2,486.4 355.5,487.7 355.8,487.1 356.0,488.1 356.2,486.7 356.5,487.4 356.8,488.0 357.0,487.1 357.2,487.2 357.5,486.9 357.8,488.4 358.0,487.7 358.2,488.2 358.5,488.3 358.8,488.0 359.0,487.9 359.2,487.0 359.5,487.5 359.8,488.1 360.0,486.5 360.2,486.7 360.5,488.2 360.8,489.1 361.0,488.0 361.2,487.6 361.5,488.9 361.8,488.5 362.0,488.8 362.2,488.3 362.5,487.8 362.8,488.3 363.0,488.9 363.2,488.5 363.5,486.2 363.8,489.1 364.0,487.2 364.2,486.6 364.5,486.5 364.8,487.9 365.0,485.6 365.2,486.5 365.5,487.7 365.8,488.2 366.0,489.0 366.2,487.6 366.5,487.0 366.8,486.9 367.0,488.3 367.2,487.7 367.5,487.9 367.8,487.0 368.0,486.8 368.2,487.0 368.5,487.8 368.8,487.9 369.0,488.9 369.2,488.2 369.5,487.7 369.8,488.7 370.0,486.3 370.2,487.0 370.5,488.1 370.8,488.4 371.0,487.7 371.2,486.4 371.5,486.4 371.8,487.9 372.0,488.1 372.2,485.9 372.5,487.3 372.8,487.6 373.0,488.6 373.2,488.6 373.5,487.3 373.8,486.8 374.0,487.5 374.2,487.1 374.5,487.0 374.8,488.2 375.0,487.7 375.2,485.4 375.5,487.6 375.8,488.1 376.0,486.5 376.2,489.0 376.5,488.0 376.8,487.7 377.0,487.2 377.2,488.5 377.5,488.6 377.8,487.0 378.0,485.6 378.2,488.7 378.5,487.5 378.8,485.8 379.0,488.6 379.2,485.4 379.5,487.1 379.8,486.3 380.0,486.4 380.2,487.7 380.5,489.7 380.8,486.9 381.0,488.8 381.2,486.9 381.5,486.8 381.8,487.8 382.0,486.0 382.2,489.1 382.5,486.9 382.8,486.3 383.0,487.5 383.2,487.4 383.5,486.9 383.8,488.0 384.0,489.0 384.2,487.5 384.5,487.0 384.8,488.5 385.0,488.6 385.2,487.0 385.5,487.5 385.8,486.9 386.0,486.4 386.2,488.4 386.5,488.2 386.8,489.0 387.0,489.3 387.2,485.3 387.5,486.5 387.8,487.5 388.0,489.3 388.2,487.7 388.5,488.5 388.8,486.9 389.0,488.9 389.2,489.0 389.5,488.9 389.8,488.5 390.0,487.3 390.2,489.3 390.5,487.1 390.8,486.9 391.0,487.0 391.2,487.9 391.5,488.9 391.8,487.8 392.0,488.2 392.2,487.6 392.5,488.3 392.8,487.8 393.0,486.7 393.2,490.1 393.5,488.5 393.8,488.6 394.0,488.2 394.2,487.2 394.5,487.6 394.8,488.4 395.0,488.9 395.2,488.2 395.5,487.2 395.8,487.5 396.0,486.8 396.2,487.4 396.5,487.6 396.8,487.2 397.0,488.0 397.2,489.6 397.5,487.2 397.8,486.4 398.0,487.1 398.2,488.8 398.5,486.8 398.8,488.7 399.0,488.8 399.2,487.5 399.5,486.4 399.8,488.2 400.0,486.9 400.2,487.8 400.5,489.5 400.8,488.0 401.0,486.0 401.2,487.7 401.5,486.8 401.8,489.4 402.0,488.0 402.2,487.2 402.5,487.9 402.8,487.6 403.0,486.8 403.2,486.6 403.5,487.7 403.8,487.1 404.0,487.5 404.2,488.3 404.5,488.8 404.8,487.1 405.0,488.0 405.2,486.8 405.5,485.8 405.8,488.7 406.0,489.2 406.2,487.2 406.5,486.7 406.8,486.2 407.0,487.5 407.2,488.6 407.5,488.2 407.8,486.5 408.0,488.0 408.2,486.4 408.5,487.5 408.8,488.1 409.0,488.1 409.2,486.0 409.5,487.0 409.8,487.7 410.0,488.2 410.2,487.4 410.5,488.3 410.8,489.0 411.0,486.3 411.2,488.1 411.5,490.1 411.8,488.1 412.0,487.7 412.2,489.0 412.5,488.8 412.8,488.0 413.0,485.6 413.2,487.8 413.5,488.1 413.8,488.3 414.0,489.3 414.2,486.3 414.5,486.7 414.8,487.9 415.0,488.7 415.2,487.2 415.5,486.9 415.8,488.2 416.0,487.9 416.2,488.7 416.5,487.7 416.8,488.2 417.0,486.2 417.2,488.3 417.5,488.3 417.8,487.5 418.0,486.6 418.2,489.4 418.5,488.7 418.8,487.7 419.0,488.7 419.2,489.6 419.5,487.5 419.8,489.3 420.0,488.6 420.2,487.6 420.5,487.6 420.8,489.2 421.0,488.9 421.2,488.5 421.5,487.0 421.8,487.4 422.0,487.8 422.2,486.4 422.5,486.3 422.8,487.0 423.0,488.3 423.2,488.4 423.5,487.8 423.8,488.5 424.0,489.5 424.2,486.8 424.5,488.7 424.8,487.3 425.0,489.3 425.2,486.0 425.5,488.2 425.8,486.0 426.0,487.9 426.2,487.8 426.5,487.6 426.8,488.6 427.0,486.7 427.2,487.7 427.5,488.6 427.8,487.6 428.0,488.5 428.2,487.9 428.5,488.2 428.8,487.1 429.0,486.6 429.2,487.4 429.5,489.3 429.8,488.4 430.0,487.5 430.2,487.3 430.5,489.1 430.8,488.8 431.0,487.9 431.2,488.6 431.5,488.1 431.8,489.3 432.0,487.0 432.2,488.2 432.5,488.5 432.8,488.5 433.0,487.2 433.2,487.3 433.5,488.8 433.8,489.8 434.0,487.1 434.2,487.7 434.5,489.3 434.8,487.8 435.0,488.7 435.2,489.0 435.5,487.8 435.8,490.0 436.0,488.1 436.2,487.6 436.5,489.0 436.8,489.2 437.0,487.1 437.2,488.0 437.5,487.4 437.8,488.1 438.0,486.7 438.2,488.3 438.5,489.4 438.8,487.4 439.0,487.8 439.2,487.9 439.5,486.6 439.8,488.0 440.0,487.5 440.2,487.2 440.5,489.6 440.8,487.4 441.0,487.5 441.2,485.1 441.5,488.6 441.8,487.9 442.0,489.1 442.2,487.2 442.5,487.9 442.8,487.9 443.0,489.8 443.2,488.8 443.5,485.9 443.8,490.4 444.0,489.3 444.2,487.6 444.5,486.8 444.8,487.3 445.0,486.1 445.2,487.6 445.5,489.0 445.8,488.0 446.0,487.1 446.2,488.6 446.5,488.6 446.8,488.4 447.0,488.8 447.2,489.7 447.5,488.7 447.8,489.4 448.0,489.2 448.2,487.9 448.5,488.9 448.8,488.1 449.0,487.7 449.2,488.6 449.5,488.7 449.8,489.0 450.0,488.3 450.2,486.5 450.5,488.2 450.8,488.5 451.0,489.0 451.2,488.6 451.5,488.1 451.8,488.1 452.0,489.4 452.2,489.1 452.5,488.1 452.8,488.4 453.0,488.3 453.2,487.7 453.5,488.1 453.8,487.7 454.0,488.9 454.2,487.1 454.5,487.7 454.8,488.8 455.0,488.6 455.2,487.0 455.5,487.2 455.8,487.8 456.0,488.5 456.2,489.0 456.5,488.0 456.8,490.0 457.0,489.0 457.2,486.3 457.5,487.8 457.8,489.1 458.0,489.3 458.2,487.7 458.5,487.8 458.8,488.0 459.0,488.3 459.2,486.9 459.5,488.4 459.8,489.4 460.0,488.5 460.2,489.2 460.5,487.3 460.8,489.1 461.0,487.8 461.2,488.8 461.5,488.9 461.8,486.9 462.0,487.0 462.2,489.3 462.5,489.0 462.8,488.7 463.0,487.3 463.2,489.2 463.5,489.0 463.8,487.2 464.0,486.8 464.2,489.0 464.5,488.3 464.8,487.1 465.0,487.7 465.2,487.2 465.5,488.6 465.8,488.2 466.0,489.3 466.2,488.5 466.5,488.4 466.8,489.7 467.0,488.1 467.2,486.9 467.5,488.1 467.8,487.2 468.0,489.0 468.2,490.2 468.5,487.4 468.8,487.9 469.0,486.6 469.2,490.1 469.5,490.4 469.8,489.1 470.0,490.0 470.2,489.8 470.5,487.6 470.8,488.1 471.0,488.0 471.2,489.4 471.5,486.5 471.8,486.9 472.0,488.7 472.2,487.5 472.5,486.4 472.8,487.2 473.0,489.0 473.2,490.2 473.5,488.3 473.8,489.8 474.0,486.7 474.2,488.2 474.5,488.6 474.8,487.6 475.0,488.0 475.2,491.3 475.5,486.4 475.8,486.3 476.0,488.3 476.2,489.2 476.5,486.3 476.8,487.1 477.0,487.7 477.2,488.1 477.5,486.2 477.8,488.9 478.0,488.5 478.2,487.8 478.5,486.1 478.8,489.8 479.0,488.0 479.2,486.5 479.5,488.9 479.8,489.4 480.0,486.9 480.2,488.8 480.5,487.6 480.8,488.2 481.0,488.6 481.2,486.9 481.5,488.8 481.8,489.7 482.0,487.8 482.2,488.7 482.5,487.9 482.8,488.0 483.0,489.5 483.2,487.3 483.5,487.8 483.8,491.0 484.0,487.9 484.2,488.0 484.5,488.0 484.8,487.7 485.0,487.8 485.2,489.7 485.5,486.5 485.8,485.5 486.0,488.4 486.2,487.4 486.5,487.5 486.8,487.9 487.0,487.7 487.2,486.8 487.5,487.8 487.8,487.7 488.0,486.8 488.2,488.1 488.5,489.9 488.8,488.6 489.0,490.1 489.2,487.8 489.5,488.6 489.8,487.9 490.0,487.0 490.2,486.8 490.5,485.9 490.8,488.7 491.0,487.6 491.2,488.3 491.5,486.4 491.8,486.2 492.0,486.8 492.2,489.4 492.5,490.1 492.8,490.8 493.0,488.3 493.2,488.0 493.5,486.2 493.8,485.8 494.0,487.5 494.2,488.0 494.5,487.8 494.8,486.6 495.0,487.8 495.2,488.4 495.5,488.4 495.8,490.4 496.0,486.5 496.2,488.3 496.5,487.3 496.8,487.1 497.0,488.2 497.2,486.0 497.5,489.8 497.8,488.3 498.0,489.5 498.2,488.3 498.5,490.2 498.8,486.9 499.0,487.0 499.2,490.8 499.5,488.9 499.8,489.8 500.0,488.0 500.2,487.6 500.5,487.9 500.8,489.6 501.0,488.8 501.2,488.0 501.5,485.3 501.8,488.7 502.0,489.2" stroke="#00f" stroke-width="1.4"/>
</g>
<g fill="none" stroke="#000" stroke-width="1.4">
<rect x="11.6" y="9.3" width="490.8" height="210.8"/>
<rect x="11.6" y="284.3" width="490.8" height="210.8"/>
<path d="M23.49 220 v-3.5 M35.18 220 v-3.5 M46.87 220 v-3.5 M58.56 220 v-3.5 M70.25 220 v-4.6 M81.94 220 v-3.5 M93.63 220 v-3.5 M105.32 220 v-3.5 M117.01 220 v-3.5 M128.70 220 v-4.6 M140.40 220 v-3.5 M152.09 220 v-3.5 M163.78 220 v-3.5 M175.47 220 v-3.5 M187.16 220 v-4.6 M198.85 220 v-3.5 M210.54 220 v-3.5 M222.23 220 v-3.5 M233.92 220 v-3.5 M245.61 220 v-4.6 M257.30 220 v-3.5 M268.99 220 v-3.5 M280.68 220 v-3.5 M292.37 220 v-3.5 M304.06 220 v-4.6 M315.75 220 v-3.5 M327.44 220 v-3.5 M339.13 220 v-3.5 M350.82 220 v-3.5 M362.51 220 v-4.6 M374.20 220 v-3.5 M385.90 220 v-3.5 M397.59 220 v-3.5 M409.28 220 v-3.5 M420.97 220 v-4.6 M432.66 220 v-3.5 M444.35 220 v-3.5 M456.04 220 v-3.5 M467.73 220 v-3.5 M479.42 220 v-4.6 M491.11 220 v-3.5 M23.49 495 v-3.5 M35.18 495 v-3.5 M46.87 495 v-3.5 M58.56 495 v-3.5 M70.25 495 v-4.6 M81.94 495 v-3.5 M93.63 495 v-3.5 M105.32 495 v-3.5 M117.01 495 v-3.5 M128.70 495 v-4.6 M140.40 495 v-3.5 M152.09 495 v-3.5 M163.78 495 v-3.5 M175.47 495 v-3.5 M187.16 495 v-4.6 M198.85 495 v-3.5 M210.54 495 v-3.5 M222.23 495 v-3.5 M233.92 495 v-3.5 M245.61 495 v-4.6 M257.30 495 v-3.5 M268.99 495 v-3.5 M280.68 495 v-3.5 M292.37 495 v-3.5 M304.06 495 v-4.6 M315.75 495 v-3.5 M327.44 495 v-3.5 M339.13 495 v-3.5 M350.82 495 v-3.5 M362.51 495 v-4.6 M374.20 495 v-3.5 M385.90 495 v-3.5 M397.59 495 v-3.5 M409.28 495 v-3.5 M420.97 495 v-4.6 M432.66 495 v-3.5 M444.35 495 v-3.5 M456.04 495 v-3.5 M467.73 495 v-3.5 M479.42 495 v-4.6 M491.11 495 v-3.5" stroke-width="1.2"/>
</g>
<g font-family="Liberation Sans" fill="#000">
<text transform="translate(13.0 25.8)" font-size="17.4" stroke="#000" stroke-width="0.12">(a) after 2,300 cigarettes (1 May, 2014)</text>
<text transform="translate(14.0 302.4)" font-size="17.4" stroke="#000" stroke-width="0.12">(b) after 21,900 cigarettes (23 July, 2014)</text>
<text transform="translate(12.10 244.7) scale(0.98 1.0)" text-anchor="middle" font-size="15.3" stroke="#000" stroke-width="0.12">15</text><text transform="translate(70.55 244.7) scale(0.98 1.0)" text-anchor="middle" font-size="15.3" stroke="#000" stroke-width="0.12">20</text><text transform="translate(129.00 244.7) scale(0.98 1.0)" text-anchor="middle" font-size="15.3" stroke="#000" stroke-width="0.12">25</text><text transform="translate(187.46 244.7) scale(0.98 1.0)" text-anchor="middle" font-size="15.3" stroke="#000" stroke-width="0.12">30</text><text transform="translate(245.91 244.7) scale(0.98 1.0)" text-anchor="middle" font-size="15.3" stroke="#000" stroke-width="0.12">35</text><text transform="translate(304.36 244.7) scale(0.98 1.0)" text-anchor="middle" font-size="15.3" stroke="#000" stroke-width="0.12">40</text><text transform="translate(362.81 244.7) scale(0.98 1.0)" text-anchor="middle" font-size="15.3" stroke="#000" stroke-width="0.12">45</text><text transform="translate(421.27 244.7) scale(0.98 1.0)" text-anchor="middle" font-size="15.3" stroke="#000" stroke-width="0.12">50</text><text transform="translate(479.72 244.7) scale(0.98 1.0)" text-anchor="middle" font-size="15.3" stroke="#000" stroke-width="0.12">55</text><text transform="translate(12.10 519.8) scale(0.98 1.0)" text-anchor="middle" font-size="15.3" stroke="#000" stroke-width="0.12">15</text><text transform="translate(70.55 519.8) scale(0.98 1.0)" text-anchor="middle" font-size="15.3" stroke="#000" stroke-width="0.12">20</text><text transform="translate(129.00 519.8) scale(0.98 1.0)" text-anchor="middle" font-size="15.3" stroke="#000" stroke-width="0.12">25</text><text transform="translate(187.46 519.8) scale(0.98 1.0)" text-anchor="middle" font-size="15.3" stroke="#000" stroke-width="0.12">30</text><text transform="translate(245.91 519.8) scale(0.98 1.0)" text-anchor="middle" font-size="15.3" stroke="#000" stroke-width="0.12">35</text><text transform="translate(304.36 519.8) scale(0.98 1.0)" text-anchor="middle" font-size="15.3" stroke="#000" stroke-width="0.12">40</text><text transform="translate(362.81 519.8) scale(0.98 1.0)" text-anchor="middle" font-size="15.3" stroke="#000" stroke-width="0.12">45</text><text transform="translate(421.27 519.8) scale(0.98 1.0)" text-anchor="middle" font-size="15.3" stroke="#000" stroke-width="0.12">50</text><text transform="translate(479.72 519.8) scale(0.98 1.0)" text-anchor="middle" font-size="15.3" stroke="#000" stroke-width="0.12">55</text>
<text transform="translate(283.3 261.1)" font-size="15.3" text-anchor="middle" stroke="#000" stroke-width="0.12">retention time (min)</text>
<text transform="translate(283.3 536.4)" font-size="15.3" text-anchor="middle" stroke="#000" stroke-width="0.12">retention time (min)</text>
<text transform="translate(369.6 133.8) scale(0.975 1.11)" font-size="14.3" stroke="#000" stroke-width="0.12">sampling point 1</text>
<text transform="translate(369.8 416.8) scale(0.975 1.11)" font-size="14.3" stroke="#000" stroke-width="0.12">sampling point 1</text>
<text transform="translate(369.5 201.8) scale(0.985 1.11)" font-size="14.3" fill="#00f" stroke="#00f" stroke-width="0.12">sampling point 2</text>
<text transform="translate(370.1 480.4) scale(0.985 1.11)" font-size="14.3" fill="#00f" stroke="#00f" stroke-width="0.12">sampling point 2</text>
<text transform="translate(13.7 75.7) scale(1.02 1.12)" font-size="14" fill="#f00" stroke="#f00" stroke-width="0.15"><tspan font-style="italic">n</tspan>-hexane</text>
<text transform="translate(67.8 113.4) scale(1.02 1.13)" font-size="14" fill="#f00" stroke="#f00" stroke-width="0.15">benzene</text>
<text transform="translate(148.2 42.9) scale(1.0 1.13)" font-size="14" fill="#f00" stroke="#f00" stroke-width="0.15">toluene</text>
<text transform="translate(406.8 94.3) scale(1.01 1.13)" font-size="14" fill="#f00" stroke="#f00" stroke-width="0.15"><tspan font-style="italic">n</tspan>-hexadecane</text>
<text transform="translate(13.7 367.2) scale(1.02 1.12)" font-size="14" fill="#f00" stroke="#f00" stroke-width="0.15"><tspan font-style="italic">n</tspan>-hexane</text>
<text transform="translate(68.4 391.9) scale(1.02 1.13)" font-size="14" fill="#f00" stroke="#f00" stroke-width="0.15">benzene</text>
<text transform="translate(148.1 345.0) scale(1.0 1.13)" font-size="14" fill="#f00" stroke="#f00" stroke-width="0.15">toluene</text>
<text transform="translate(407.0 377.8) scale(1.01 1.13)" font-size="14" fill="#f00" stroke="#f00" stroke-width="0.15"><tspan font-style="italic">n</tspan>-hexadecane</text>
</g>
<line x1="20.6" y1="77.7" x2="20.6" y2="119.0" stroke="#f00" stroke-width="1.3"/><path d="M17.1 115.9 L20.6 126.9 L24.1 115.9 L20.6 118.5 Z" fill="#f00"/>
<line x1="474.7" y1="96.4" x2="474.7" y2="138.1" stroke="#f00" stroke-width="1.3"/><path d="M471.2 135.0 L474.7 146.0 L478.2 135.0 L474.7 137.6 Z" fill="#f00"/>
<line x1="20.6" y1="369" x2="20.6" y2="411.1" stroke="#f00" stroke-width="1.3"/><path d="M17.1 408.0 L20.6 418.3 L24.1 408.0 L20.6 410.6 Z" fill="#f00"/>
<line x1="474.5" y1="379.7" x2="474.5" y2="421.1" stroke="#f00" stroke-width="1.3"/><path d="M471.0 418.0 L474.5 428.6 L478.0 418.0 L474.5 420.6 Z" fill="#f00"/>
</svg>
</body></html>
